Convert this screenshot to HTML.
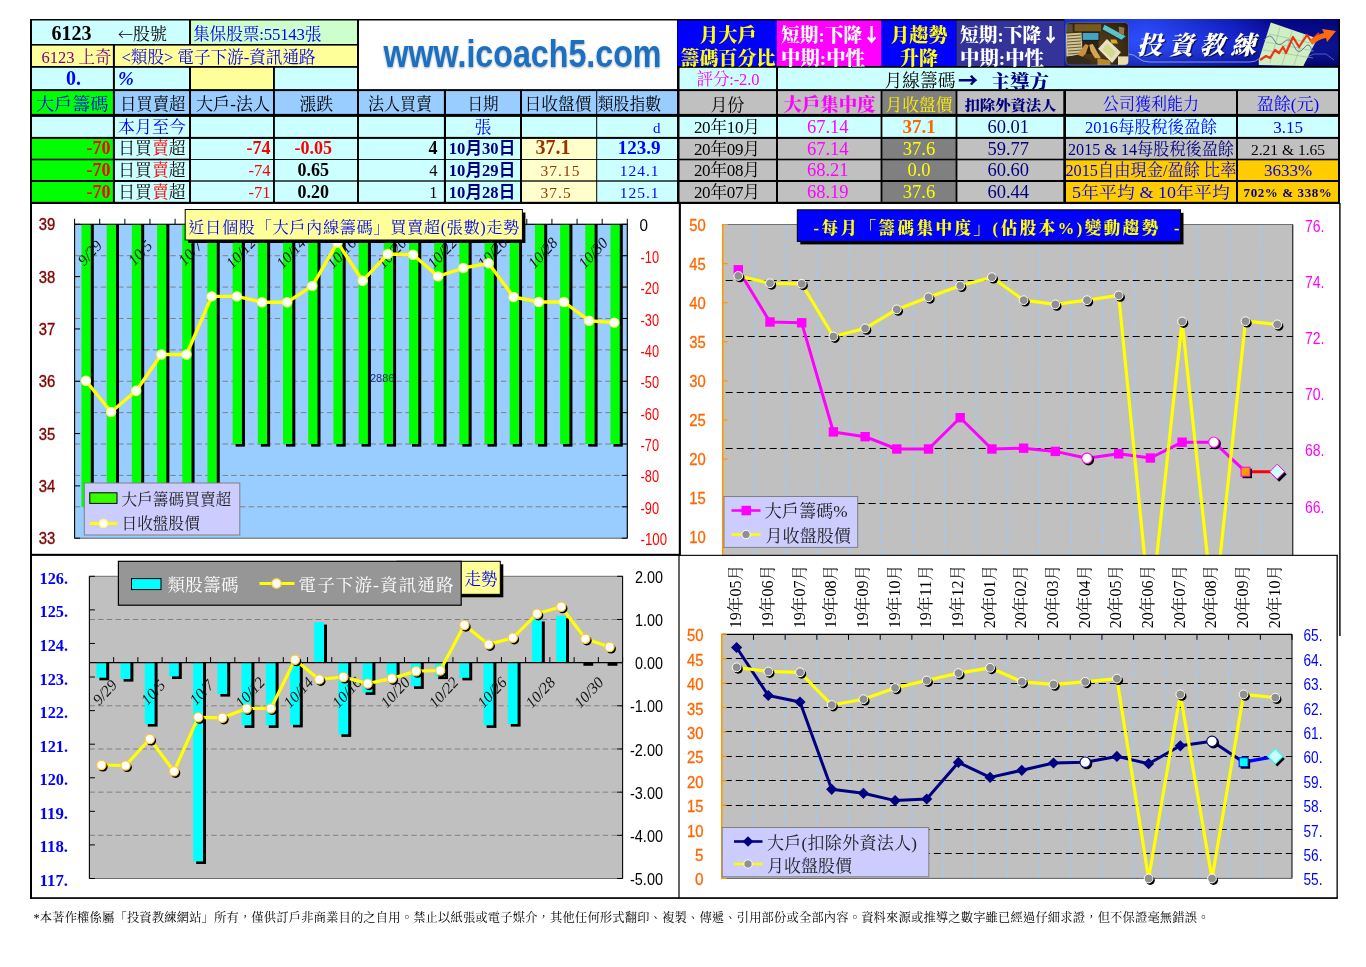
<!DOCTYPE html>
<html lang="zh-Hant"><head><meta charset="utf-8"><title>6123 上奇 籌碼分析</title>
<style>
html,body{margin:0;padding:0;background:#fff;}
body{width:1366px;height:967px;overflow:hidden;position:relative;font-family:"Liberation Serif","Noto Serif CJK TC","Noto Serif CJK SC",serif;}
svg{position:absolute;left:0;top:0;display:block}
svg text{white-space:pre}
</style></head><body>
<svg width="1366" height="967" viewBox="0 0 1366 967" font-family='"Liberation Serif","Noto Serif CJK TC","Noto Serif CJK SC",serif'>
<defs>
<linearGradient id="bng" x1="0" y1="0" x2="1" y2="0">
<stop offset="0" stop-color="#1c36e8"/><stop offset="0.3" stop-color="#2a4cff"/><stop offset="0.62" stop-color="#1020c8"/><stop offset="0.78" stop-color="#04068c"/><stop offset="1" stop-color="#020478"/>
</linearGradient>
<linearGradient id="bng2" x1="0" y1="0" x2="0" y2="1">
<stop offset="0" stop-color="#000060" stop-opacity="0.15"/><stop offset="0.45" stop-color="#4060ff" stop-opacity="0.12"/><stop offset="1" stop-color="#000050" stop-opacity="0.45"/>
</linearGradient>
<radialGradient id="phg" cx="0.45" cy="0.55" r="0.7">
<stop offset="0" stop-color="#7a5a2a" stop-opacity="0.45"/><stop offset="1" stop-color="#1a1408" stop-opacity="0.75"/>
</radialGradient>
<filter id="lgsh" x="-5%" y="-20%" width="110%" height="150%"><feGaussianBlur in="SourceAlpha" stdDeviation="1.3" result="b"/><feOffset in="b" dx="0" dy="1.2" result="o"/><feComponentTransfer in="o" result="s"><feFuncA type="linear" slope="0.35"/></feComponentTransfer><feMerge><feMergeNode in="s"/><feMergeNode in="SourceGraphic"/></feMerge></filter>
<clipPath id="r3clip"><rect x="778" y="67.8" width="560" height="21.3"/></clipPath>
<clipPath id="phclip"><rect x="1066" y="22.5" width="62.5" height="42.5" rx="4"/></clipPath>
<filter id="phblur" x="-5%" y="-5%" width="110%" height="110%"><feGaussianBlur stdDeviation="0.55"/></filter>
<clipPath id="c2clip"><rect x="681" y="204" width="658" height="351.2"/></clipPath>
</defs>
<rect x="0" y="0" width="1366" height="967" fill="#fff"/>
<rect x="30.00" y="203.00" width="2.00" height="696.00" fill="#000" />
<rect x="30.00" y="553.80" width="650.00" height="2.10" fill="#000" />
<rect x="30.00" y="897.20" width="1307.80" height="1.70" fill="#000" />
<rect x="678.80" y="203.00" width="2.10" height="353.00" fill="#000" />
<rect x="678.40" y="556.00" width="1.20" height="342.00" fill="#000" />
<rect x="1339.20" y="203.00" width="1.40" height="433.00" fill="#000" />
<rect x="1336.50" y="555.00" width="1.30" height="343.00" fill="#000" />
<rect x="74.60" y="224.30" width="552.70" height="313.90" fill="#99CCFF" stroke="#606060" stroke-width="1"/>
<line x1="74.60" y1="255.69" x2="627.30" y2="255.69" stroke="#808080" stroke-width="1" stroke-dasharray="5.5 3.2"/>
<line x1="74.60" y1="287.08" x2="627.30" y2="287.08" stroke="#808080" stroke-width="1" stroke-dasharray="5.5 3.2"/>
<line x1="74.60" y1="318.47" x2="627.30" y2="318.47" stroke="#808080" stroke-width="1" stroke-dasharray="5.5 3.2"/>
<line x1="74.60" y1="349.86" x2="627.30" y2="349.86" stroke="#808080" stroke-width="1" stroke-dasharray="5.5 3.2"/>
<line x1="74.60" y1="381.25" x2="627.30" y2="381.25" stroke="#808080" stroke-width="1" stroke-dasharray="5.5 3.2"/>
<line x1="74.60" y1="412.64" x2="627.30" y2="412.64" stroke="#808080" stroke-width="1" stroke-dasharray="5.5 3.2"/>
<line x1="74.60" y1="444.03" x2="627.30" y2="444.03" stroke="#808080" stroke-width="1" stroke-dasharray="5.5 3.2"/>
<line x1="74.60" y1="475.42" x2="627.30" y2="475.42" stroke="#808080" stroke-width="1" stroke-dasharray="5.5 3.2"/>
<line x1="74.60" y1="506.81" x2="627.30" y2="506.81" stroke="#808080" stroke-width="1" stroke-dasharray="5.5 3.2"/>
<rect x="84.50" y="224.30" width="9.30" height="285.11" fill="#000" />
<rect x="81.50" y="224.30" width="9.30" height="282.51" fill="#00FF00" />
<rect x="109.69" y="224.30" width="9.30" height="285.11" fill="#000" />
<rect x="106.69" y="224.30" width="9.30" height="282.51" fill="#00FF00" />
<rect x="134.88" y="224.30" width="9.30" height="285.11" fill="#000" />
<rect x="131.88" y="224.30" width="9.30" height="282.51" fill="#00FF00" />
<rect x="160.07" y="224.30" width="9.30" height="285.11" fill="#000" />
<rect x="157.07" y="224.30" width="9.30" height="282.51" fill="#00FF00" />
<rect x="185.26" y="224.30" width="9.30" height="285.11" fill="#000" />
<rect x="182.26" y="224.30" width="9.30" height="282.51" fill="#00FF00" />
<rect x="210.45" y="224.30" width="9.30" height="285.11" fill="#000" />
<rect x="207.45" y="224.30" width="9.30" height="282.51" fill="#00FF00" />
<rect x="235.64" y="224.30" width="9.30" height="222.33" fill="#000" />
<rect x="232.64" y="224.30" width="9.30" height="219.73" fill="#00FF00" />
<rect x="260.83" y="224.30" width="9.30" height="222.33" fill="#000" />
<rect x="257.83" y="224.30" width="9.30" height="219.73" fill="#00FF00" />
<rect x="286.02" y="224.30" width="9.30" height="222.33" fill="#000" />
<rect x="283.02" y="224.30" width="9.30" height="219.73" fill="#00FF00" />
<rect x="311.21" y="224.30" width="9.30" height="222.33" fill="#000" />
<rect x="308.21" y="224.30" width="9.30" height="219.73" fill="#00FF00" />
<rect x="336.40" y="224.30" width="9.30" height="222.33" fill="#000" />
<rect x="333.40" y="224.30" width="9.30" height="219.73" fill="#00FF00" />
<rect x="361.59" y="224.30" width="9.30" height="222.33" fill="#000" />
<rect x="358.59" y="224.30" width="9.30" height="219.73" fill="#00FF00" />
<rect x="386.78" y="224.30" width="9.30" height="222.33" fill="#000" />
<rect x="383.78" y="224.30" width="9.30" height="219.73" fill="#00FF00" />
<rect x="411.97" y="224.30" width="9.30" height="222.33" fill="#000" />
<rect x="408.97" y="224.30" width="9.30" height="219.73" fill="#00FF00" />
<rect x="437.16" y="224.30" width="9.30" height="222.33" fill="#000" />
<rect x="434.16" y="224.30" width="9.30" height="219.73" fill="#00FF00" />
<rect x="462.35" y="224.30" width="9.30" height="222.33" fill="#000" />
<rect x="459.35" y="224.30" width="9.30" height="219.73" fill="#00FF00" />
<rect x="487.54" y="224.30" width="9.30" height="222.33" fill="#000" />
<rect x="484.54" y="224.30" width="9.30" height="219.73" fill="#00FF00" />
<rect x="512.73" y="224.30" width="9.30" height="222.33" fill="#000" />
<rect x="509.73" y="224.30" width="9.30" height="219.73" fill="#00FF00" />
<rect x="537.92" y="224.30" width="9.30" height="222.33" fill="#000" />
<rect x="534.92" y="224.30" width="9.30" height="219.73" fill="#00FF00" />
<rect x="563.11" y="224.30" width="9.30" height="222.33" fill="#000" />
<rect x="560.11" y="224.30" width="9.30" height="219.73" fill="#00FF00" />
<rect x="588.30" y="224.30" width="9.30" height="222.33" fill="#000" />
<rect x="585.30" y="224.30" width="9.30" height="219.73" fill="#00FF00" />
<rect x="613.49" y="224.30" width="9.30" height="222.33" fill="#000" />
<rect x="610.49" y="224.30" width="9.30" height="219.73" fill="#00FF00" />
<line x1="74.60" y1="224.30" x2="627.30" y2="224.30" stroke="#000" stroke-width="1" />
<line x1="74.60" y1="218.80" x2="74.60" y2="224.30" stroke="#000" stroke-width="1" />
<line x1="99.72" y1="218.80" x2="99.72" y2="224.30" stroke="#000" stroke-width="1" />
<line x1="124.85" y1="218.80" x2="124.85" y2="224.30" stroke="#000" stroke-width="1" />
<line x1="149.97" y1="218.80" x2="149.97" y2="224.30" stroke="#000" stroke-width="1" />
<line x1="175.09" y1="218.80" x2="175.09" y2="224.30" stroke="#000" stroke-width="1" />
<line x1="200.21" y1="218.80" x2="200.21" y2="224.30" stroke="#000" stroke-width="1" />
<line x1="225.34" y1="218.80" x2="225.34" y2="224.30" stroke="#000" stroke-width="1" />
<line x1="250.46" y1="218.80" x2="250.46" y2="224.30" stroke="#000" stroke-width="1" />
<line x1="275.58" y1="218.80" x2="275.58" y2="224.30" stroke="#000" stroke-width="1" />
<line x1="300.70" y1="218.80" x2="300.70" y2="224.30" stroke="#000" stroke-width="1" />
<line x1="325.83" y1="218.80" x2="325.83" y2="224.30" stroke="#000" stroke-width="1" />
<line x1="350.95" y1="218.80" x2="350.95" y2="224.30" stroke="#000" stroke-width="1" />
<line x1="376.07" y1="218.80" x2="376.07" y2="224.30" stroke="#000" stroke-width="1" />
<line x1="401.20" y1="218.80" x2="401.20" y2="224.30" stroke="#000" stroke-width="1" />
<line x1="426.32" y1="218.80" x2="426.32" y2="224.30" stroke="#000" stroke-width="1" />
<line x1="451.44" y1="218.80" x2="451.44" y2="224.30" stroke="#000" stroke-width="1" />
<line x1="476.56" y1="218.80" x2="476.56" y2="224.30" stroke="#000" stroke-width="1" />
<line x1="501.69" y1="218.80" x2="501.69" y2="224.30" stroke="#000" stroke-width="1" />
<line x1="526.81" y1="218.80" x2="526.81" y2="224.30" stroke="#000" stroke-width="1" />
<line x1="551.93" y1="218.80" x2="551.93" y2="224.30" stroke="#000" stroke-width="1" />
<line x1="577.05" y1="218.80" x2="577.05" y2="224.30" stroke="#000" stroke-width="1" />
<line x1="602.18" y1="218.80" x2="602.18" y2="224.30" stroke="#000" stroke-width="1" />
<line x1="627.30" y1="218.80" x2="627.30" y2="224.30" stroke="#000" stroke-width="1" />
<line x1="74.60" y1="224.30" x2="74.60" y2="538.20" stroke="#000" stroke-width="1" />
<line x1="74.60" y1="224.30" x2="80.10" y2="224.30" stroke="#000" stroke-width="1" />
<line x1="74.60" y1="276.62" x2="80.10" y2="276.62" stroke="#000" stroke-width="1" />
<line x1="74.60" y1="328.93" x2="80.10" y2="328.93" stroke="#000" stroke-width="1" />
<line x1="74.60" y1="381.25" x2="80.10" y2="381.25" stroke="#000" stroke-width="1" />
<line x1="74.60" y1="433.57" x2="80.10" y2="433.57" stroke="#000" stroke-width="1" />
<line x1="74.60" y1="485.88" x2="80.10" y2="485.88" stroke="#000" stroke-width="1" />
<line x1="74.60" y1="538.20" x2="80.10" y2="538.20" stroke="#000" stroke-width="1" />
<line x1="627.30" y1="224.30" x2="627.30" y2="538.20" stroke="#000" stroke-width="1" />
<line x1="621.80" y1="224.30" x2="627.30" y2="224.30" stroke="#000" stroke-width="1" />
<line x1="621.80" y1="255.69" x2="627.30" y2="255.69" stroke="#000" stroke-width="1" />
<line x1="621.80" y1="287.08" x2="627.30" y2="287.08" stroke="#000" stroke-width="1" />
<line x1="621.80" y1="318.47" x2="627.30" y2="318.47" stroke="#000" stroke-width="1" />
<line x1="621.80" y1="349.86" x2="627.30" y2="349.86" stroke="#000" stroke-width="1" />
<line x1="621.80" y1="381.25" x2="627.30" y2="381.25" stroke="#000" stroke-width="1" />
<line x1="621.80" y1="412.64" x2="627.30" y2="412.64" stroke="#000" stroke-width="1" />
<line x1="621.80" y1="444.03" x2="627.30" y2="444.03" stroke="#000" stroke-width="1" />
<line x1="621.80" y1="475.42" x2="627.30" y2="475.42" stroke="#000" stroke-width="1" />
<line x1="621.80" y1="506.81" x2="627.30" y2="506.81" stroke="#000" stroke-width="1" />
<line x1="621.80" y1="538.20" x2="627.30" y2="538.20" stroke="#000" stroke-width="1" />
<text x="89.9" y="258.0" font-size="15.5" fill="#111" text-anchor="middle" font-family='"Liberation Serif",serif' transform="rotate(-47 89.9 253.0)" font-style="italic">9/29</text>
<text x="140.2" y="258.0" font-size="15.5" fill="#111" text-anchor="middle" font-family='"Liberation Serif",serif' transform="rotate(-47 140.2 253.0)" font-style="italic">10/5</text>
<text x="190.5" y="258.0" font-size="15.5" fill="#111" text-anchor="middle" font-family='"Liberation Serif",serif' transform="rotate(-47 190.5 253.0)" font-style="italic">10/7</text>
<text x="240.9" y="258.0" font-size="15.5" fill="#111" text-anchor="middle" font-family='"Liberation Serif",serif' transform="rotate(-47 240.9 253.0)" font-style="italic">10/12</text>
<text x="291.2" y="258.0" font-size="15.5" fill="#111" text-anchor="middle" font-family='"Liberation Serif",serif' transform="rotate(-47 291.2 253.0)" font-style="italic">10/14</text>
<text x="341.5" y="258.0" font-size="15.5" fill="#111" text-anchor="middle" font-family='"Liberation Serif",serif' transform="rotate(-47 341.5 253.0)" font-style="italic">10/16</text>
<text x="391.8" y="258.0" font-size="15.5" fill="#111" text-anchor="middle" font-family='"Liberation Serif",serif' transform="rotate(-47 391.8 253.0)" font-style="italic">10/20</text>
<text x="442.1" y="258.0" font-size="15.5" fill="#111" text-anchor="middle" font-family='"Liberation Serif",serif' transform="rotate(-47 442.1 253.0)" font-style="italic">10/22</text>
<text x="492.5" y="258.0" font-size="15.5" fill="#111" text-anchor="middle" font-family='"Liberation Serif",serif' transform="rotate(-47 492.5 253.0)" font-style="italic">10/26</text>
<text x="542.8" y="258.0" font-size="15.5" fill="#111" text-anchor="middle" font-family='"Liberation Serif",serif' transform="rotate(-47 542.8 253.0)" font-style="italic">10/28</text>
<text x="593.1" y="258.0" font-size="15.5" fill="#111" text-anchor="middle" font-family='"Liberation Serif",serif' transform="rotate(-47 593.1 253.0)" font-style="italic">10/30</text>
<text x="370.0" y="382.0" font-size="11" fill="#1f2f6f" font-family='"Liberation Sans",sans-serif' >2886</text>
<polyline points="85.9,380.8 111.1,412.0 136.2,390.8 161.4,354.5 186.5,354.5 211.7,296.4 236.9,296.4 262.0,302.2 287.2,302.2 312.3,285.9 337.5,242.6 362.7,280.7 387.8,254.0 413.0,254.8 438.1,276.4 463.3,268.0 488.5,263.3 513.6,297.0 538.8,302.0 563.9,302.0 589.1,320.7 614.3,322.6" fill="none" stroke="#FFFF00" stroke-width="3.4" stroke-linejoin="round" />
<circle cx="85.9" cy="380.8" r="4.6" fill="#fff" stroke="#FFFF66" stroke-width="1.2"/>
<circle cx="111.1" cy="412.0" r="4.6" fill="#fff" stroke="#FFFF66" stroke-width="1.2"/>
<circle cx="136.2" cy="390.8" r="4.6" fill="#fff" stroke="#FFFF66" stroke-width="1.2"/>
<circle cx="161.4" cy="354.5" r="4.6" fill="#fff" stroke="#FFFF66" stroke-width="1.2"/>
<circle cx="186.5" cy="354.5" r="4.6" fill="#fff" stroke="#FFFF66" stroke-width="1.2"/>
<circle cx="211.7" cy="296.4" r="4.6" fill="#fff" stroke="#FFFF66" stroke-width="1.2"/>
<circle cx="236.9" cy="296.4" r="4.6" fill="#fff" stroke="#FFFF66" stroke-width="1.2"/>
<circle cx="262.0" cy="302.2" r="4.6" fill="#fff" stroke="#FFFF66" stroke-width="1.2"/>
<circle cx="287.2" cy="302.2" r="4.6" fill="#fff" stroke="#FFFF66" stroke-width="1.2"/>
<circle cx="312.3" cy="285.9" r="4.6" fill="#fff" stroke="#FFFF66" stroke-width="1.2"/>
<circle cx="337.5" cy="242.6" r="4.6" fill="#fff" stroke="#FFFF66" stroke-width="1.2"/>
<circle cx="362.7" cy="280.7" r="4.6" fill="#fff" stroke="#FFFF66" stroke-width="1.2"/>
<circle cx="387.8" cy="254.0" r="4.6" fill="#fff" stroke="#FFFF66" stroke-width="1.2"/>
<circle cx="413.0" cy="254.8" r="4.6" fill="#fff" stroke="#FFFF66" stroke-width="1.2"/>
<circle cx="438.1" cy="276.4" r="4.6" fill="#fff" stroke="#FFFF66" stroke-width="1.2"/>
<circle cx="463.3" cy="268.0" r="4.6" fill="#fff" stroke="#FFFF66" stroke-width="1.2"/>
<circle cx="488.5" cy="263.3" r="4.6" fill="#fff" stroke="#FFFF66" stroke-width="1.2"/>
<circle cx="513.6" cy="297.0" r="4.6" fill="#fff" stroke="#FFFF66" stroke-width="1.2"/>
<circle cx="538.8" cy="302.0" r="4.6" fill="#fff" stroke="#FFFF66" stroke-width="1.2"/>
<circle cx="563.9" cy="302.0" r="4.6" fill="#fff" stroke="#FFFF66" stroke-width="1.2"/>
<circle cx="589.1" cy="320.7" r="4.6" fill="#fff" stroke="#FFFF66" stroke-width="1.2"/>
<circle cx="614.3" cy="322.6" r="4.6" fill="#fff" stroke="#FFFF66" stroke-width="1.2"/>
<rect x="84.30" y="483.00" width="155.50" height="52.00" fill="#CCCCFF" stroke="#808080" stroke-width="1"/>
<rect x="89.80" y="492.80" width="27.20" height="10.60" fill="#33FF00" stroke="#000" stroke-width="1"/>
<text x="121.5" y="505.3" font-size="15.7" fill="#222" font-family='"Liberation Serif","Noto Serif CJK TC","Noto Serif CJK SC",serif' >大戶籌碼買賣超</text>
<line x1="89.60" y1="523.50" x2="117.50" y2="523.50" stroke="#FFFF00" stroke-width="3" />
<circle cx="103.5" cy="523.5" r="4.2" fill="#fff" stroke="#FFFF66" stroke-width="1.2"/>
<text x="121.5" y="529.3" font-size="15.7" fill="#222" font-family='"Liberation Serif","Noto Serif CJK TC","Noto Serif CJK SC",serif' >日收盤股價</text>
<rect x="188.20" y="212.50" width="337.20" height="30.50" fill="#000" />
<rect x="185.20" y="209.50" width="337.20" height="30.50" fill="#FFFF99" stroke="#000" stroke-width="1"/>
<text x="188.3" y="232.5" font-size="16.3" fill="#0000FF" font-family='"Liberation Serif","Noto Serif CJK TC","Noto Serif CJK SC",serif' textLength="331" lengthAdjust="spacing">近日個股「大戶內線籌碼」買賣超(張數)走勢</text>
<text x="47.0" y="230.3" font-size="16" fill="#800000" text-anchor="middle" font-family='"Liberation Sans",sans-serif' textLength="16.5" lengthAdjust="spacingAndGlyphs" stroke="#800000" stroke-width="0.35">39</text>
<text x="47.0" y="282.6" font-size="16" fill="#800000" text-anchor="middle" font-family='"Liberation Sans",sans-serif' textLength="16.5" lengthAdjust="spacingAndGlyphs" stroke="#800000" stroke-width="0.35">38</text>
<text x="47.0" y="334.9" font-size="16" fill="#800000" text-anchor="middle" font-family='"Liberation Sans",sans-serif' textLength="16.5" lengthAdjust="spacingAndGlyphs" stroke="#800000" stroke-width="0.35">37</text>
<text x="47.0" y="387.2" font-size="16" fill="#800000" text-anchor="middle" font-family='"Liberation Sans",sans-serif' textLength="16.5" lengthAdjust="spacingAndGlyphs" stroke="#800000" stroke-width="0.35">36</text>
<text x="47.0" y="439.6" font-size="16" fill="#800000" text-anchor="middle" font-family='"Liberation Sans",sans-serif' textLength="16.5" lengthAdjust="spacingAndGlyphs" stroke="#800000" stroke-width="0.35">35</text>
<text x="47.0" y="491.9" font-size="16" fill="#800000" text-anchor="middle" font-family='"Liberation Sans",sans-serif' textLength="16.5" lengthAdjust="spacingAndGlyphs" stroke="#800000" stroke-width="0.35">34</text>
<text x="47.0" y="544.2" font-size="16" fill="#800000" text-anchor="middle" font-family='"Liberation Sans",sans-serif' textLength="16.5" lengthAdjust="spacingAndGlyphs" stroke="#800000" stroke-width="0.35">33</text>
<text x="639.5" y="231.3" font-size="16.5" fill="#000" font-family='"Liberation Sans",sans-serif' textLength="8.5" lengthAdjust="spacingAndGlyphs">0</text>
<text x="640.5" y="262.7" font-size="16.5" fill="#FF0000" font-family='"Liberation Sans",sans-serif' textLength="18.5" lengthAdjust="spacingAndGlyphs">-10</text>
<text x="640.5" y="294.1" font-size="16.5" fill="#FF0000" font-family='"Liberation Sans",sans-serif' textLength="18.5" lengthAdjust="spacingAndGlyphs">-20</text>
<text x="640.5" y="325.5" font-size="16.5" fill="#FF0000" font-family='"Liberation Sans",sans-serif' textLength="18.5" lengthAdjust="spacingAndGlyphs">-30</text>
<text x="640.5" y="356.9" font-size="16.5" fill="#FF0000" font-family='"Liberation Sans",sans-serif' textLength="18.5" lengthAdjust="spacingAndGlyphs">-40</text>
<text x="640.5" y="388.2" font-size="16.5" fill="#FF0000" font-family='"Liberation Sans",sans-serif' textLength="18.5" lengthAdjust="spacingAndGlyphs">-50</text>
<text x="640.5" y="419.6" font-size="16.5" fill="#FF0000" font-family='"Liberation Sans",sans-serif' textLength="18.5" lengthAdjust="spacingAndGlyphs">-60</text>
<text x="640.5" y="451.0" font-size="16.5" fill="#FF0000" font-family='"Liberation Sans",sans-serif' textLength="18.5" lengthAdjust="spacingAndGlyphs">-70</text>
<text x="640.5" y="482.4" font-size="16.5" fill="#FF0000" font-family='"Liberation Sans",sans-serif' textLength="18.5" lengthAdjust="spacingAndGlyphs">-80</text>
<text x="640.5" y="513.8" font-size="16.5" fill="#FF0000" font-family='"Liberation Sans",sans-serif' textLength="18.5" lengthAdjust="spacingAndGlyphs">-90</text>
<text x="640.5" y="545.2" font-size="16.5" fill="#FF0000" font-family='"Liberation Sans",sans-serif' textLength="26.5" lengthAdjust="spacingAndGlyphs">-100</text>
<g clip-path="url(#c2clip)">
<rect x="722.70" y="224.50" width="570.10" height="335.50" fill="#C0C0C0" />
<line x1="754.37" y1="224.50" x2="754.37" y2="560.00" stroke="#99CCFF" stroke-width="1.2" stroke-dasharray="6 3.5"/>
<line x1="786.04" y1="224.50" x2="786.04" y2="560.00" stroke="#99CCFF" stroke-width="1.2" stroke-dasharray="6 3.5"/>
<line x1="817.72" y1="224.50" x2="817.72" y2="560.00" stroke="#99CCFF" stroke-width="1.2" stroke-dasharray="6 3.5"/>
<line x1="849.39" y1="224.50" x2="849.39" y2="560.00" stroke="#99CCFF" stroke-width="1.2" stroke-dasharray="6 3.5"/>
<line x1="881.06" y1="224.50" x2="881.06" y2="560.00" stroke="#99CCFF" stroke-width="1.2" stroke-dasharray="6 3.5"/>
<line x1="912.73" y1="224.50" x2="912.73" y2="560.00" stroke="#99CCFF" stroke-width="1.2" stroke-dasharray="6 3.5"/>
<line x1="944.41" y1="224.50" x2="944.41" y2="560.00" stroke="#99CCFF" stroke-width="1.2" stroke-dasharray="6 3.5"/>
<line x1="976.08" y1="224.50" x2="976.08" y2="560.00" stroke="#99CCFF" stroke-width="1.2" stroke-dasharray="6 3.5"/>
<line x1="1007.75" y1="224.50" x2="1007.75" y2="560.00" stroke="#99CCFF" stroke-width="1.2" stroke-dasharray="6 3.5"/>
<line x1="1039.42" y1="224.50" x2="1039.42" y2="560.00" stroke="#99CCFF" stroke-width="1.2" stroke-dasharray="6 3.5"/>
<line x1="1071.09" y1="224.50" x2="1071.09" y2="560.00" stroke="#99CCFF" stroke-width="1.2" stroke-dasharray="6 3.5"/>
<line x1="1102.77" y1="224.50" x2="1102.77" y2="560.00" stroke="#99CCFF" stroke-width="1.2" stroke-dasharray="6 3.5"/>
<line x1="1134.44" y1="224.50" x2="1134.44" y2="560.00" stroke="#99CCFF" stroke-width="1.2" stroke-dasharray="6 3.5"/>
<line x1="1166.11" y1="224.50" x2="1166.11" y2="560.00" stroke="#99CCFF" stroke-width="1.2" stroke-dasharray="6 3.5"/>
<line x1="1197.78" y1="224.50" x2="1197.78" y2="560.00" stroke="#99CCFF" stroke-width="1.2" stroke-dasharray="6 3.5"/>
<line x1="1229.46" y1="224.50" x2="1229.46" y2="560.00" stroke="#99CCFF" stroke-width="1.2" stroke-dasharray="6 3.5"/>
<line x1="1261.13" y1="224.50" x2="1261.13" y2="560.00" stroke="#99CCFF" stroke-width="1.2" stroke-dasharray="6 3.5"/>
<line x1="722.70" y1="280.50" x2="1292.80" y2="280.50" stroke="#000" stroke-width="1.15" stroke-dasharray="7 4" stroke-dashoffset="-3"/>
<line x1="722.70" y1="336.50" x2="1292.80" y2="336.50" stroke="#000" stroke-width="1.15" stroke-dasharray="7 4" stroke-dashoffset="-3"/>
<line x1="722.70" y1="392.50" x2="1292.80" y2="392.50" stroke="#000" stroke-width="1.15" stroke-dasharray="7 4" stroke-dashoffset="-3"/>
<line x1="722.70" y1="448.50" x2="1292.80" y2="448.50" stroke="#000" stroke-width="1.15" stroke-dasharray="7 4" stroke-dashoffset="-3"/>
<line x1="722.70" y1="503.50" x2="1292.80" y2="503.50" stroke="#000" stroke-width="1.15" stroke-dasharray="7 4" stroke-dashoffset="-3"/>
<line x1="722.70" y1="559.50" x2="1292.80" y2="559.50" stroke="#000" stroke-width="1.15" stroke-dasharray="7 4" stroke-dashoffset="-3"/>
<line x1="722.70" y1="224.50" x2="1292.80" y2="224.50" stroke="#707070" stroke-width="1" />
<line x1="1292.80" y1="224.50" x2="1292.80" y2="560.00" stroke="#000" stroke-width="1" />
<line x1="722.70" y1="224.00" x2="722.70" y2="560.00" stroke="#FF9900" stroke-width="1.6" />
<line x1="722.70" y1="224.50" x2="727.70" y2="224.50" stroke="#FF9900" stroke-width="1.2" />
<line x1="1292.80" y1="224.50" x2="1292.80" y2="224.50" stroke="#000" stroke-width="1" />
<line x1="722.70" y1="263.60" x2="727.70" y2="263.60" stroke="#FF9900" stroke-width="1.2" />
<line x1="1292.80" y1="263.60" x2="1292.80" y2="263.60" stroke="#000" stroke-width="1" />
<line x1="722.70" y1="302.70" x2="727.70" y2="302.70" stroke="#FF9900" stroke-width="1.2" />
<line x1="1292.80" y1="302.70" x2="1292.80" y2="302.70" stroke="#000" stroke-width="1" />
<line x1="722.70" y1="341.80" x2="727.70" y2="341.80" stroke="#FF9900" stroke-width="1.2" />
<line x1="1292.80" y1="341.80" x2="1292.80" y2="341.80" stroke="#000" stroke-width="1" />
<line x1="722.70" y1="380.90" x2="727.70" y2="380.90" stroke="#FF9900" stroke-width="1.2" />
<line x1="1292.80" y1="380.90" x2="1292.80" y2="380.90" stroke="#000" stroke-width="1" />
<line x1="722.70" y1="420.00" x2="727.70" y2="420.00" stroke="#FF9900" stroke-width="1.2" />
<line x1="1292.80" y1="420.00" x2="1292.80" y2="420.00" stroke="#000" stroke-width="1" />
<line x1="722.70" y1="459.10" x2="727.70" y2="459.10" stroke="#FF9900" stroke-width="1.2" />
<line x1="1292.80" y1="459.10" x2="1292.80" y2="459.10" stroke="#000" stroke-width="1" />
<line x1="722.70" y1="498.20" x2="727.70" y2="498.20" stroke="#FF9900" stroke-width="1.2" />
<line x1="1292.80" y1="498.20" x2="1292.80" y2="498.20" stroke="#000" stroke-width="1" />
<line x1="722.70" y1="537.30" x2="727.70" y2="537.30" stroke="#FF9900" stroke-width="1.2" />
<line x1="1292.80" y1="537.30" x2="1292.80" y2="537.30" stroke="#000" stroke-width="1" />
<polyline points="738.3,269.8 770.0,322.0 801.7,322.8 833.4,431.9 865.1,436.7 896.8,449.0 928.5,449.0 960.2,417.7 991.9,449.0 1023.6,448.2 1055.3,451.4 1087.0,458.3 1118.7,453.8 1150.4,458.0 1182.1,442.2 1213.8,442.2 1245.5,471.7" fill="none" stroke="#FF00FF" stroke-width="3" stroke-linejoin="round" />
<line x1="1245.50" y1="471.70" x2="1277.20" y2="471.70" stroke="#FF0000" stroke-width="3" />
<rect x="733.60" y="265.10" width="9.40" height="9.40" fill="#FF00FF" />
<rect x="765.30" y="317.30" width="9.40" height="9.40" fill="#FF00FF" />
<rect x="797.00" y="318.10" width="9.40" height="9.40" fill="#FF00FF" />
<rect x="828.70" y="427.20" width="9.40" height="9.40" fill="#FF00FF" />
<rect x="860.40" y="432.00" width="9.40" height="9.40" fill="#FF00FF" />
<rect x="892.10" y="444.30" width="9.40" height="9.40" fill="#FF00FF" />
<rect x="923.80" y="444.30" width="9.40" height="9.40" fill="#FF00FF" />
<rect x="955.50" y="413.00" width="9.40" height="9.40" fill="#FF00FF" />
<rect x="987.20" y="444.30" width="9.40" height="9.40" fill="#FF00FF" />
<rect x="1018.90" y="443.50" width="9.40" height="9.40" fill="#FF00FF" />
<rect x="1050.60" y="446.70" width="9.40" height="9.40" fill="#FF00FF" />
<circle cx="1088.5" cy="459.8" r="5.6" fill="#000"/>
<circle cx="1087.0" cy="458.3" r="5.2" fill="#fff" stroke="#FF00FF" stroke-width="1.1"/>
<rect x="1114.00" y="449.10" width="9.40" height="9.40" fill="#FF00FF" />
<rect x="1145.70" y="453.30" width="9.40" height="9.40" fill="#FF00FF" />
<rect x="1177.40" y="437.50" width="9.40" height="9.40" fill="#FF00FF" />
<circle cx="1215.3" cy="443.7" r="5.6" fill="#000"/>
<circle cx="1213.8" cy="442.2" r="5.2" fill="#fff" stroke="#FF00FF" stroke-width="1.1"/>
<rect x="1242.50" y="468.70" width="9.50" height="9.50" fill="#000" />
<rect x="1241.00" y="467.20" width="9.00" height="9.00" fill="#FF9900" stroke="#FF00FF" stroke-width="1"/>
<path d="M1279.2,466.7 l7.5,7.5 l-7.5,7.5 l-7.5,-7.5z" fill="#000"/>
<path d="M1277.2,464.2 l7.5,7.5 l-7.5,7.5 l-7.5,-7.5z" fill="#CCFFFF" stroke="#FF00FF" stroke-width="1"/>
<polyline points="738.3,275.9 770.0,283.3 801.7,283.8 833.4,336.5 865.1,328.4 896.8,309.4 928.5,297.3 960.2,285.7 991.9,277.2 1023.6,300.2 1055.3,304.4 1087.0,300.2 1118.7,295.4 1150.4,615.5 1182.1,321.5 1213.8,615.5 1245.5,321.2 1277.2,324.4" fill="none" stroke="#FFFF00" stroke-width="3.2" stroke-linejoin="round" stroke-linejoin="miter"/>
<circle cx="739.9" cy="277.7" r="4.6" fill="#000"/>
<circle cx="738.3" cy="275.9" r="4.4" fill="#909090" stroke="#fff" stroke-width="1"/>
<circle cx="771.6" cy="285.1" r="4.6" fill="#000"/>
<circle cx="770.0" cy="283.3" r="4.4" fill="#909090" stroke="#fff" stroke-width="1"/>
<circle cx="803.3" cy="285.6" r="4.6" fill="#000"/>
<circle cx="801.7" cy="283.8" r="4.4" fill="#909090" stroke="#fff" stroke-width="1"/>
<circle cx="835.0" cy="338.3" r="4.6" fill="#000"/>
<circle cx="833.4" cy="336.5" r="4.4" fill="#909090" stroke="#fff" stroke-width="1"/>
<circle cx="866.7" cy="330.2" r="4.6" fill="#000"/>
<circle cx="865.1" cy="328.4" r="4.4" fill="#909090" stroke="#fff" stroke-width="1"/>
<circle cx="898.4" cy="311.2" r="4.6" fill="#000"/>
<circle cx="896.8" cy="309.4" r="4.4" fill="#909090" stroke="#fff" stroke-width="1"/>
<circle cx="930.1" cy="299.1" r="4.6" fill="#000"/>
<circle cx="928.5" cy="297.3" r="4.4" fill="#909090" stroke="#fff" stroke-width="1"/>
<circle cx="961.8" cy="287.5" r="4.6" fill="#000"/>
<circle cx="960.2" cy="285.7" r="4.4" fill="#909090" stroke="#fff" stroke-width="1"/>
<circle cx="993.5" cy="279.0" r="4.6" fill="#000"/>
<circle cx="991.9" cy="277.2" r="4.4" fill="#909090" stroke="#fff" stroke-width="1"/>
<circle cx="1025.2" cy="302.0" r="4.6" fill="#000"/>
<circle cx="1023.6" cy="300.2" r="4.4" fill="#909090" stroke="#fff" stroke-width="1"/>
<circle cx="1056.9" cy="306.2" r="4.6" fill="#000"/>
<circle cx="1055.3" cy="304.4" r="4.4" fill="#909090" stroke="#fff" stroke-width="1"/>
<circle cx="1088.6" cy="302.0" r="4.6" fill="#000"/>
<circle cx="1087.0" cy="300.2" r="4.4" fill="#909090" stroke="#fff" stroke-width="1"/>
<circle cx="1120.3" cy="297.2" r="4.6" fill="#000"/>
<circle cx="1118.7" cy="295.4" r="4.4" fill="#909090" stroke="#fff" stroke-width="1"/>
<circle cx="1152.0" cy="617.3" r="4.6" fill="#000"/>
<circle cx="1150.4" cy="615.5" r="4.4" fill="#909090" stroke="#fff" stroke-width="1"/>
<circle cx="1183.7" cy="323.3" r="4.6" fill="#000"/>
<circle cx="1182.1" cy="321.5" r="4.4" fill="#909090" stroke="#fff" stroke-width="1"/>
<circle cx="1215.4" cy="617.3" r="4.6" fill="#000"/>
<circle cx="1213.8" cy="615.5" r="4.4" fill="#909090" stroke="#fff" stroke-width="1"/>
<circle cx="1247.1" cy="323.0" r="4.6" fill="#000"/>
<circle cx="1245.5" cy="321.2" r="4.4" fill="#909090" stroke="#fff" stroke-width="1"/>
<circle cx="1278.8" cy="326.2" r="4.6" fill="#000"/>
<circle cx="1277.2" cy="324.4" r="4.4" fill="#909090" stroke="#fff" stroke-width="1"/>
</g>
<rect x="724.00" y="496.50" width="133.70" height="50.90" fill="#CCCCFF" stroke="#808080" stroke-width="1"/>
<line x1="731.50" y1="510.50" x2="760.50" y2="510.50" stroke="#FF00FF" stroke-width="2.6" />
<rect x="741.50" y="505.80" width="9.50" height="9.50" fill="#FF00FF" />
<text x="764.5" y="517.0" font-size="17.2" fill="#222" font-family='"Liberation Serif","Noto Serif CJK TC","Noto Serif CJK SC",serif' >大戶籌碼%</text>
<line x1="731.50" y1="534.50" x2="760.50" y2="534.50" stroke="#FFFF00" stroke-width="2.6" />
<circle cx="746" cy="534.5" r="4.2" fill="#909090" stroke="#fff" stroke-width="1"/>
<text x="765.5" y="541.5" font-size="17.1" fill="#222" font-family='"Liberation Serif","Noto Serif CJK TC","Noto Serif CJK SC",serif' >月收盤股價</text>
<rect x="800.30" y="212.80" width="383.20" height="31.60" fill="#000" />
<rect x="797.30" y="209.80" width="383.20" height="31.60" fill="#0000FF" stroke="#000" stroke-width="1"/>
<text x="813.5" y="234.3" font-size="16.5" fill="#FFFF00" font-weight="900" font-family='"Liberation Serif","Noto Serif CJK TC","Noto Serif CJK SC",serif' textLength="366" lengthAdjust="spacing">-每月「籌碼集中度」(佔股本%)變動趨勢  -</text>
<text x="697.5" y="230.5" font-size="16.5" fill="#FF6600" text-anchor="middle" font-family='"Liberation Sans",sans-serif' textLength="16.5" lengthAdjust="spacingAndGlyphs" stroke="#FF6600" stroke-width="0.3">50</text>
<text x="697.5" y="269.6" font-size="16.5" fill="#FF6600" text-anchor="middle" font-family='"Liberation Sans",sans-serif' textLength="16.5" lengthAdjust="spacingAndGlyphs" stroke="#FF6600" stroke-width="0.3">45</text>
<text x="697.5" y="308.7" font-size="16.5" fill="#FF6600" text-anchor="middle" font-family='"Liberation Sans",sans-serif' textLength="16.5" lengthAdjust="spacingAndGlyphs" stroke="#FF6600" stroke-width="0.3">40</text>
<text x="697.5" y="347.8" font-size="16.5" fill="#FF6600" text-anchor="middle" font-family='"Liberation Sans",sans-serif' textLength="16.5" lengthAdjust="spacingAndGlyphs" stroke="#FF6600" stroke-width="0.3">35</text>
<text x="697.5" y="386.9" font-size="16.5" fill="#FF6600" text-anchor="middle" font-family='"Liberation Sans",sans-serif' textLength="16.5" lengthAdjust="spacingAndGlyphs" stroke="#FF6600" stroke-width="0.3">30</text>
<text x="697.5" y="426.0" font-size="16.5" fill="#FF6600" text-anchor="middle" font-family='"Liberation Sans",sans-serif' textLength="16.5" lengthAdjust="spacingAndGlyphs" stroke="#FF6600" stroke-width="0.3">25</text>
<text x="697.5" y="465.1" font-size="16.5" fill="#FF6600" text-anchor="middle" font-family='"Liberation Sans",sans-serif' textLength="16.5" lengthAdjust="spacingAndGlyphs" stroke="#FF6600" stroke-width="0.3">20</text>
<text x="697.5" y="504.2" font-size="16.5" fill="#FF6600" text-anchor="middle" font-family='"Liberation Sans",sans-serif' textLength="16.5" lengthAdjust="spacingAndGlyphs" stroke="#FF6600" stroke-width="0.3">15</text>
<text x="697.5" y="543.3" font-size="16.5" fill="#FF6600" text-anchor="middle" font-family='"Liberation Sans",sans-serif' textLength="16.5" lengthAdjust="spacingAndGlyphs" stroke="#FF6600" stroke-width="0.3">10</text>
<text x="1305.0" y="232.0" font-size="16.5" fill="#FF00FF" font-family='"Liberation Sans",sans-serif' textLength="19.5" lengthAdjust="spacingAndGlyphs">76.</text>
<text x="1305.0" y="288.1" font-size="16.5" fill="#FF00FF" font-family='"Liberation Sans",sans-serif' textLength="19.5" lengthAdjust="spacingAndGlyphs">74.</text>
<text x="1305.0" y="344.2" font-size="16.5" fill="#FF00FF" font-family='"Liberation Sans",sans-serif' textLength="19.5" lengthAdjust="spacingAndGlyphs">72.</text>
<text x="1305.0" y="400.3" font-size="16.5" fill="#FF00FF" font-family='"Liberation Sans",sans-serif' textLength="19.5" lengthAdjust="spacingAndGlyphs">70.</text>
<text x="1305.0" y="456.4" font-size="16.5" fill="#FF00FF" font-family='"Liberation Sans",sans-serif' textLength="19.5" lengthAdjust="spacingAndGlyphs">68.</text>
<text x="1305.0" y="512.5" font-size="16.5" fill="#FF00FF" font-family='"Liberation Sans",sans-serif' textLength="19.5" lengthAdjust="spacingAndGlyphs">66.</text>
<g clip-path="url(#c2clip)">
<text x="1305.0" y="568.6" font-size="16.5" fill="#FF00FF" font-family='"Liberation Sans",sans-serif' textLength="19.5" lengthAdjust="spacingAndGlyphs">64.</text>
</g>
<rect x="679.00" y="554.80" width="658.80" height="1.10" fill="#000" />
<rect x="89.40" y="576.30" width="533.20" height="302.20" fill="#C0C0C0" stroke="#707070" stroke-width="1"/>
<line x1="89.40" y1="619.47" x2="622.60" y2="619.47" stroke="#808080" stroke-width="1" stroke-dasharray="5.5 3.2"/>
<line x1="89.40" y1="705.81" x2="622.60" y2="705.81" stroke="#808080" stroke-width="1" stroke-dasharray="5.5 3.2"/>
<line x1="89.40" y1="748.98" x2="622.60" y2="748.98" stroke="#808080" stroke-width="1" stroke-dasharray="5.5 3.2"/>
<line x1="89.40" y1="792.15" x2="622.60" y2="792.15" stroke="#808080" stroke-width="1" stroke-dasharray="5.5 3.2"/>
<line x1="89.40" y1="835.32" x2="622.60" y2="835.32" stroke="#808080" stroke-width="1" stroke-dasharray="5.5 3.2"/>
<rect x="99.40" y="662.60" width="9.80" height="17.70" fill="#000" />
<rect x="96.40" y="662.60" width="9.80" height="15.10" fill="#00FFFF" />
<rect x="123.60" y="662.60" width="9.80" height="19.00" fill="#000" />
<rect x="120.60" y="662.60" width="9.80" height="16.40" fill="#00FFFF" />
<rect x="147.80" y="662.60" width="9.80" height="64.00" fill="#000" />
<rect x="144.80" y="662.60" width="9.80" height="61.40" fill="#00FFFF" />
<rect x="172.00" y="662.60" width="9.80" height="16.40" fill="#000" />
<rect x="169.00" y="662.60" width="9.80" height="13.80" fill="#00FFFF" />
<rect x="196.20" y="662.60" width="9.80" height="201.40" fill="#000" />
<rect x="193.20" y="662.60" width="9.80" height="198.80" fill="#00FFFF" />
<rect x="220.40" y="662.60" width="9.80" height="34.00" fill="#000" />
<rect x="217.40" y="662.60" width="9.80" height="31.40" fill="#00FFFF" />
<rect x="244.60" y="662.60" width="9.80" height="65.30" fill="#000" />
<rect x="241.60" y="662.60" width="9.80" height="62.70" fill="#00FFFF" />
<rect x="268.80" y="662.60" width="9.80" height="65.30" fill="#000" />
<rect x="265.80" y="662.60" width="9.80" height="62.70" fill="#00FFFF" />
<rect x="293.00" y="662.60" width="9.80" height="64.80" fill="#000" />
<rect x="290.00" y="662.60" width="9.80" height="62.20" fill="#00FFFF" />
<rect x="317.20" y="624.60" width="9.80" height="38.00" fill="#000" />
<rect x="314.20" y="622.10" width="9.80" height="40.50" fill="#00FFFF" />
<rect x="341.40" y="662.60" width="9.80" height="74.30" fill="#000" />
<rect x="338.40" y="662.60" width="9.80" height="71.70" fill="#00FFFF" />
<rect x="365.60" y="662.60" width="9.80" height="32.30" fill="#000" />
<rect x="362.60" y="662.60" width="9.80" height="29.70" fill="#00FFFF" />
<rect x="389.80" y="662.60" width="9.80" height="15.20" fill="#000" />
<rect x="386.80" y="662.60" width="9.80" height="12.60" fill="#00FFFF" />
<rect x="414.00" y="662.60" width="9.80" height="26.30" fill="#000" />
<rect x="411.00" y="662.60" width="9.80" height="23.70" fill="#00FFFF" />
<rect x="438.20" y="662.60" width="9.80" height="16.50" fill="#000" />
<rect x="435.20" y="662.60" width="9.80" height="13.90" fill="#00FFFF" />
<rect x="462.40" y="662.60" width="9.80" height="17.80" fill="#000" />
<rect x="459.40" y="662.60" width="9.80" height="15.20" fill="#00FFFF" />
<rect x="486.60" y="662.60" width="9.80" height="65.30" fill="#000" />
<rect x="483.60" y="662.60" width="9.80" height="62.70" fill="#00FFFF" />
<rect x="510.80" y="662.60" width="9.80" height="64.00" fill="#000" />
<rect x="507.80" y="662.60" width="9.80" height="61.40" fill="#00FFFF" />
<rect x="535.00" y="621.50" width="9.80" height="41.10" fill="#000" />
<rect x="532.00" y="619.00" width="9.80" height="43.60" fill="#00FFFF" />
<rect x="559.20" y="618.40" width="9.80" height="44.20" fill="#000" />
<rect x="556.20" y="615.90" width="9.80" height="46.70" fill="#00FFFF" />
<rect x="583.40" y="662.60" width="9.80" height="3.20" fill="#000" />
<rect x="607.60" y="662.60" width="9.80" height="3.20" fill="#000" />
<line x1="89.40" y1="662.60" x2="622.60" y2="662.60" stroke="#000" stroke-width="1.3" />
<line x1="113.64" y1="657.10" x2="113.64" y2="662.60" stroke="#000" stroke-width="1" />
<line x1="137.87" y1="657.10" x2="137.87" y2="662.60" stroke="#000" stroke-width="1" />
<line x1="162.11" y1="657.10" x2="162.11" y2="662.60" stroke="#000" stroke-width="1" />
<line x1="186.35" y1="657.10" x2="186.35" y2="662.60" stroke="#000" stroke-width="1" />
<line x1="210.58" y1="657.10" x2="210.58" y2="662.60" stroke="#000" stroke-width="1" />
<line x1="234.82" y1="657.10" x2="234.82" y2="662.60" stroke="#000" stroke-width="1" />
<line x1="259.05" y1="657.10" x2="259.05" y2="662.60" stroke="#000" stroke-width="1" />
<line x1="283.29" y1="657.10" x2="283.29" y2="662.60" stroke="#000" stroke-width="1" />
<line x1="307.53" y1="657.10" x2="307.53" y2="662.60" stroke="#000" stroke-width="1" />
<line x1="331.76" y1="657.10" x2="331.76" y2="662.60" stroke="#000" stroke-width="1" />
<line x1="356.00" y1="657.10" x2="356.00" y2="662.60" stroke="#000" stroke-width="1" />
<line x1="380.24" y1="657.10" x2="380.24" y2="662.60" stroke="#000" stroke-width="1" />
<line x1="404.47" y1="657.10" x2="404.47" y2="662.60" stroke="#000" stroke-width="1" />
<line x1="428.71" y1="657.10" x2="428.71" y2="662.60" stroke="#000" stroke-width="1" />
<line x1="452.95" y1="657.10" x2="452.95" y2="662.60" stroke="#000" stroke-width="1" />
<line x1="477.18" y1="657.10" x2="477.18" y2="662.60" stroke="#000" stroke-width="1" />
<line x1="501.42" y1="657.10" x2="501.42" y2="662.60" stroke="#000" stroke-width="1" />
<line x1="525.65" y1="657.10" x2="525.65" y2="662.60" stroke="#000" stroke-width="1" />
<line x1="549.89" y1="657.10" x2="549.89" y2="662.60" stroke="#000" stroke-width="1" />
<line x1="574.13" y1="657.10" x2="574.13" y2="662.60" stroke="#000" stroke-width="1" />
<line x1="598.36" y1="657.10" x2="598.36" y2="662.60" stroke="#000" stroke-width="1" />
<line x1="622.60" y1="657.10" x2="622.60" y2="662.60" stroke="#000" stroke-width="1" />
<line x1="89.40" y1="576.30" x2="89.40" y2="878.50" stroke="#000" stroke-width="1" />
<line x1="89.40" y1="576.30" x2="94.90" y2="576.30" stroke="#000" stroke-width="1" />
<line x1="89.40" y1="609.88" x2="94.90" y2="609.88" stroke="#000" stroke-width="1" />
<line x1="89.40" y1="643.46" x2="94.90" y2="643.46" stroke="#000" stroke-width="1" />
<line x1="89.40" y1="677.03" x2="94.90" y2="677.03" stroke="#000" stroke-width="1" />
<line x1="89.40" y1="710.61" x2="94.90" y2="710.61" stroke="#000" stroke-width="1" />
<line x1="89.40" y1="744.19" x2="94.90" y2="744.19" stroke="#000" stroke-width="1" />
<line x1="89.40" y1="777.77" x2="94.90" y2="777.77" stroke="#000" stroke-width="1" />
<line x1="89.40" y1="811.34" x2="94.90" y2="811.34" stroke="#000" stroke-width="1" />
<line x1="89.40" y1="844.92" x2="94.90" y2="844.92" stroke="#000" stroke-width="1" />
<line x1="89.40" y1="878.50" x2="94.90" y2="878.50" stroke="#000" stroke-width="1" />
<line x1="622.60" y1="576.30" x2="622.60" y2="878.50" stroke="#000" stroke-width="1" />
<line x1="617.10" y1="576.30" x2="622.60" y2="576.30" stroke="#000" stroke-width="1" />
<line x1="617.10" y1="619.47" x2="622.60" y2="619.47" stroke="#000" stroke-width="1" />
<line x1="617.10" y1="662.64" x2="622.60" y2="662.64" stroke="#000" stroke-width="1" />
<line x1="617.10" y1="705.81" x2="622.60" y2="705.81" stroke="#000" stroke-width="1" />
<line x1="617.10" y1="748.99" x2="622.60" y2="748.99" stroke="#000" stroke-width="1" />
<line x1="617.10" y1="792.16" x2="622.60" y2="792.16" stroke="#000" stroke-width="1" />
<line x1="617.10" y1="835.33" x2="622.60" y2="835.33" stroke="#000" stroke-width="1" />
<line x1="617.10" y1="878.50" x2="622.60" y2="878.50" stroke="#000" stroke-width="1" />
<text x="104.9" y="697.5" font-size="15.5" fill="#111" text-anchor="middle" font-family='"Liberation Serif",serif' transform="rotate(-47 104.9 692.5)" font-style="italic">9/29</text>
<text x="153.3" y="697.5" font-size="15.5" fill="#111" text-anchor="middle" font-family='"Liberation Serif",serif' transform="rotate(-47 153.3 692.5)" font-style="italic">10/5</text>
<text x="201.7" y="697.5" font-size="15.5" fill="#111" text-anchor="middle" font-family='"Liberation Serif",serif' transform="rotate(-47 201.7 692.5)" font-style="italic">10/7</text>
<text x="250.1" y="697.5" font-size="15.5" fill="#111" text-anchor="middle" font-family='"Liberation Serif",serif' transform="rotate(-47 250.1 692.5)" font-style="italic">10/12</text>
<text x="298.5" y="697.5" font-size="15.5" fill="#111" text-anchor="middle" font-family='"Liberation Serif",serif' transform="rotate(-47 298.5 692.5)" font-style="italic">10/14</text>
<text x="346.9" y="697.5" font-size="15.5" fill="#111" text-anchor="middle" font-family='"Liberation Serif",serif' transform="rotate(-47 346.9 692.5)" font-style="italic">10/16</text>
<text x="395.3" y="697.5" font-size="15.5" fill="#111" text-anchor="middle" font-family='"Liberation Serif",serif' transform="rotate(-47 395.3 692.5)" font-style="italic">10/20</text>
<text x="443.7" y="697.5" font-size="15.5" fill="#111" text-anchor="middle" font-family='"Liberation Serif",serif' transform="rotate(-47 443.7 692.5)" font-style="italic">10/22</text>
<text x="492.1" y="697.5" font-size="15.5" fill="#111" text-anchor="middle" font-family='"Liberation Serif",serif' transform="rotate(-47 492.1 692.5)" font-style="italic">10/26</text>
<text x="540.5" y="697.5" font-size="15.5" fill="#111" text-anchor="middle" font-family='"Liberation Serif",serif' transform="rotate(-47 540.5 692.5)" font-style="italic">10/28</text>
<text x="588.9" y="697.5" font-size="15.5" fill="#111" text-anchor="middle" font-family='"Liberation Serif",serif' transform="rotate(-47 588.9 692.5)" font-style="italic">10/30</text>
<polyline points="101.4,765.0 125.6,765.5 149.8,739.0 174.0,771.3 198.2,717.3 222.4,717.8 246.6,708.5 270.8,708.5 295.0,659.7 319.2,679.4 343.4,677.0 367.6,683.6 391.8,678.4 416.0,671.2 440.2,670.5 464.4,625.1 488.6,644.4 512.8,637.8 537.0,613.8 561.2,606.7 585.4,638.8 609.6,647.0" fill="none" stroke="#FFFF00" stroke-width="3.2" stroke-linejoin="round" />
<circle cx="102.9" cy="766.8" r="4.8" fill="#000"/>
<circle cx="101.4" cy="765.0" r="4.6" fill="#fff" stroke="#FFCC33" stroke-width="1.2"/>
<circle cx="127.1" cy="767.3" r="4.8" fill="#000"/>
<circle cx="125.6" cy="765.5" r="4.6" fill="#fff" stroke="#FFCC33" stroke-width="1.2"/>
<circle cx="151.3" cy="740.8" r="4.8" fill="#000"/>
<circle cx="149.8" cy="739.0" r="4.6" fill="#fff" stroke="#FFCC33" stroke-width="1.2"/>
<circle cx="175.5" cy="773.1" r="4.8" fill="#000"/>
<circle cx="174.0" cy="771.3" r="4.6" fill="#fff" stroke="#FFCC33" stroke-width="1.2"/>
<circle cx="199.7" cy="719.1" r="4.8" fill="#000"/>
<circle cx="198.2" cy="717.3" r="4.6" fill="#fff" stroke="#FFCC33" stroke-width="1.2"/>
<circle cx="223.9" cy="719.6" r="4.8" fill="#000"/>
<circle cx="222.4" cy="717.8" r="4.6" fill="#fff" stroke="#FFCC33" stroke-width="1.2"/>
<circle cx="248.1" cy="710.3" r="4.8" fill="#000"/>
<circle cx="246.6" cy="708.5" r="4.6" fill="#fff" stroke="#FFCC33" stroke-width="1.2"/>
<circle cx="272.3" cy="710.3" r="4.8" fill="#000"/>
<circle cx="270.8" cy="708.5" r="4.6" fill="#fff" stroke="#FFCC33" stroke-width="1.2"/>
<circle cx="296.5" cy="661.5" r="4.8" fill="#000"/>
<circle cx="295.0" cy="659.7" r="4.6" fill="#fff" stroke="#FFCC33" stroke-width="1.2"/>
<circle cx="320.7" cy="681.2" r="4.8" fill="#000"/>
<circle cx="319.2" cy="679.4" r="4.6" fill="#fff" stroke="#FFCC33" stroke-width="1.2"/>
<circle cx="344.9" cy="678.8" r="4.8" fill="#000"/>
<circle cx="343.4" cy="677.0" r="4.6" fill="#fff" stroke="#FFCC33" stroke-width="1.2"/>
<circle cx="369.1" cy="685.4" r="4.8" fill="#000"/>
<circle cx="367.6" cy="683.6" r="4.6" fill="#fff" stroke="#FFCC33" stroke-width="1.2"/>
<circle cx="393.3" cy="680.2" r="4.8" fill="#000"/>
<circle cx="391.8" cy="678.4" r="4.6" fill="#fff" stroke="#FFCC33" stroke-width="1.2"/>
<circle cx="417.5" cy="673.0" r="4.8" fill="#000"/>
<circle cx="416.0" cy="671.2" r="4.6" fill="#fff" stroke="#FFCC33" stroke-width="1.2"/>
<circle cx="441.7" cy="672.3" r="4.8" fill="#000"/>
<circle cx="440.2" cy="670.5" r="4.6" fill="#fff" stroke="#FFCC33" stroke-width="1.2"/>
<circle cx="465.9" cy="626.9" r="4.8" fill="#000"/>
<circle cx="464.4" cy="625.1" r="4.6" fill="#fff" stroke="#FFCC33" stroke-width="1.2"/>
<circle cx="490.1" cy="646.2" r="4.8" fill="#000"/>
<circle cx="488.6" cy="644.4" r="4.6" fill="#fff" stroke="#FFCC33" stroke-width="1.2"/>
<circle cx="514.3" cy="639.6" r="4.8" fill="#000"/>
<circle cx="512.8" cy="637.8" r="4.6" fill="#fff" stroke="#FFCC33" stroke-width="1.2"/>
<circle cx="538.5" cy="615.6" r="4.8" fill="#000"/>
<circle cx="537.0" cy="613.8" r="4.6" fill="#fff" stroke="#FFCC33" stroke-width="1.2"/>
<circle cx="562.7" cy="608.5" r="4.8" fill="#000"/>
<circle cx="561.2" cy="606.7" r="4.6" fill="#fff" stroke="#FFCC33" stroke-width="1.2"/>
<circle cx="586.9" cy="640.6" r="4.8" fill="#000"/>
<circle cx="585.4" cy="638.8" r="4.6" fill="#fff" stroke="#FFCC33" stroke-width="1.2"/>
<circle cx="611.1" cy="648.8" r="4.8" fill="#000"/>
<circle cx="609.6" cy="647.0" r="4.6" fill="#fff" stroke="#FFCC33" stroke-width="1.2"/>
<rect x="400.00" y="564.30" width="103.30" height="33.00" fill="#000" />
<rect x="397.00" y="561.30" width="103.30" height="33.00" fill="#FFFF99" stroke="#000" stroke-width="1"/>
<text x="497.5" y="585.0" font-size="16.5" fill="#0000FF" text-anchor="end" font-family='"Liberation Serif","Noto Serif CJK TC","Noto Serif CJK SC",serif' >走勢</text>
<rect x="118.40" y="561.30" width="342.80" height="43.90" fill="#969696" stroke="#000" stroke-width="1.2"/>
<rect x="131.50" y="578.60" width="29.50" height="11.00" fill="#00FFFF" stroke="#000" stroke-width="1"/>
<text x="167.5" y="591.0" font-size="17.5" fill="#fff" font-family='"Liberation Serif","Noto Serif CJK TC","Noto Serif CJK SC",serif' textLength="71" lengthAdjust="spacing">類股籌碼</text>
<line x1="259.50" y1="583.50" x2="294.50" y2="583.50" stroke="#FFFF00" stroke-width="3" />
<circle cx="276.5" cy="583.5" r="4.8" fill="#fff" stroke="#FFCC33" stroke-width="1.2"/>
<text x="298.5" y="591.0" font-size="17.5" fill="#fff" font-family='"Liberation Serif","Noto Serif CJK TC","Noto Serif CJK SC",serif' textLength="155" lengthAdjust="spacing">電子下游-資訊通路</text>
<text x="39.5" y="583.8" font-size="17" fill="#0000FF" font-weight="bold" font-family='"Liberation Serif",serif' textLength="28.5" lengthAdjust="spacingAndGlyphs">126.</text>
<text x="39.5" y="617.4" font-size="17" fill="#0000FF" font-weight="bold" font-family='"Liberation Serif",serif' textLength="28.5" lengthAdjust="spacingAndGlyphs">125.</text>
<text x="39.5" y="651.0" font-size="17" fill="#0000FF" font-weight="bold" font-family='"Liberation Serif",serif' textLength="28.5" lengthAdjust="spacingAndGlyphs">124.</text>
<text x="39.5" y="684.5" font-size="17" fill="#0000FF" font-weight="bold" font-family='"Liberation Serif",serif' textLength="28.5" lengthAdjust="spacingAndGlyphs">123.</text>
<text x="39.5" y="718.1" font-size="17" fill="#0000FF" font-weight="bold" font-family='"Liberation Serif",serif' textLength="28.5" lengthAdjust="spacingAndGlyphs">122.</text>
<text x="39.5" y="751.7" font-size="17" fill="#0000FF" font-weight="bold" font-family='"Liberation Serif",serif' textLength="28.5" lengthAdjust="spacingAndGlyphs">121.</text>
<text x="39.5" y="785.3" font-size="17" fill="#0000FF" font-weight="bold" font-family='"Liberation Serif",serif' textLength="28.5" lengthAdjust="spacingAndGlyphs">120.</text>
<text x="39.5" y="818.8" font-size="17" fill="#0000FF" font-weight="bold" font-family='"Liberation Serif",serif' textLength="28.5" lengthAdjust="spacingAndGlyphs">119.</text>
<text x="39.5" y="852.4" font-size="17" fill="#0000FF" font-weight="bold" font-family='"Liberation Serif",serif' textLength="28.5" lengthAdjust="spacingAndGlyphs">118.</text>
<text x="39.5" y="886.0" font-size="17" fill="#0000FF" font-weight="bold" font-family='"Liberation Serif",serif' textLength="28.5" lengthAdjust="spacingAndGlyphs">117.</text>
<text x="663.0" y="582.8" font-size="16.5" fill="#000" text-anchor="end" font-family='"Liberation Sans",sans-serif' textLength="28" lengthAdjust="spacingAndGlyphs">2.00</text>
<text x="663.0" y="626.0" font-size="16.5" fill="#000" text-anchor="end" font-family='"Liberation Sans",sans-serif' textLength="28" lengthAdjust="spacingAndGlyphs">1.00</text>
<text x="663.0" y="669.1" font-size="16.5" fill="#000" text-anchor="end" font-family='"Liberation Sans",sans-serif' textLength="28" lengthAdjust="spacingAndGlyphs">0.00</text>
<text x="663.0" y="712.3" font-size="16.5" fill="#000" text-anchor="end" font-family='"Liberation Sans",sans-serif' textLength="33" lengthAdjust="spacingAndGlyphs">-1.00</text>
<text x="663.0" y="755.5" font-size="16.5" fill="#000" text-anchor="end" font-family='"Liberation Sans",sans-serif' textLength="33" lengthAdjust="spacingAndGlyphs">-2.00</text>
<text x="663.0" y="798.7" font-size="16.5" fill="#000" text-anchor="end" font-family='"Liberation Sans",sans-serif' textLength="33" lengthAdjust="spacingAndGlyphs">-3.00</text>
<text x="663.0" y="841.8" font-size="16.5" fill="#000" text-anchor="end" font-family='"Liberation Sans",sans-serif' textLength="33" lengthAdjust="spacingAndGlyphs">-4.00</text>
<text x="663.0" y="885.0" font-size="16.5" fill="#000" text-anchor="end" font-family='"Liberation Sans",sans-serif' textLength="33" lengthAdjust="spacingAndGlyphs">-5.00</text>
<rect x="721.80" y="634.30" width="570.20" height="244.10" fill="#C0C0C0" />
<line x1="753.48" y1="634.30" x2="753.48" y2="878.40" stroke="#99CCFF" stroke-width="1.2" stroke-dasharray="6 3.5"/>
<line x1="785.16" y1="634.30" x2="785.16" y2="878.40" stroke="#99CCFF" stroke-width="1.2" stroke-dasharray="6 3.5"/>
<line x1="816.83" y1="634.30" x2="816.83" y2="878.40" stroke="#99CCFF" stroke-width="1.2" stroke-dasharray="6 3.5"/>
<line x1="848.51" y1="634.30" x2="848.51" y2="878.40" stroke="#99CCFF" stroke-width="1.2" stroke-dasharray="6 3.5"/>
<line x1="880.19" y1="634.30" x2="880.19" y2="878.40" stroke="#99CCFF" stroke-width="1.2" stroke-dasharray="6 3.5"/>
<line x1="911.87" y1="634.30" x2="911.87" y2="878.40" stroke="#99CCFF" stroke-width="1.2" stroke-dasharray="6 3.5"/>
<line x1="943.54" y1="634.30" x2="943.54" y2="878.40" stroke="#99CCFF" stroke-width="1.2" stroke-dasharray="6 3.5"/>
<line x1="975.22" y1="634.30" x2="975.22" y2="878.40" stroke="#99CCFF" stroke-width="1.2" stroke-dasharray="6 3.5"/>
<line x1="1006.90" y1="634.30" x2="1006.90" y2="878.40" stroke="#99CCFF" stroke-width="1.2" stroke-dasharray="6 3.5"/>
<line x1="1038.58" y1="634.30" x2="1038.58" y2="878.40" stroke="#99CCFF" stroke-width="1.2" stroke-dasharray="6 3.5"/>
<line x1="1070.26" y1="634.30" x2="1070.26" y2="878.40" stroke="#99CCFF" stroke-width="1.2" stroke-dasharray="6 3.5"/>
<line x1="1101.93" y1="634.30" x2="1101.93" y2="878.40" stroke="#99CCFF" stroke-width="1.2" stroke-dasharray="6 3.5"/>
<line x1="1133.61" y1="634.30" x2="1133.61" y2="878.40" stroke="#99CCFF" stroke-width="1.2" stroke-dasharray="6 3.5"/>
<line x1="1165.29" y1="634.30" x2="1165.29" y2="878.40" stroke="#99CCFF" stroke-width="1.2" stroke-dasharray="6 3.5"/>
<line x1="1196.97" y1="634.30" x2="1196.97" y2="878.40" stroke="#99CCFF" stroke-width="1.2" stroke-dasharray="6 3.5"/>
<line x1="1228.64" y1="634.30" x2="1228.64" y2="878.40" stroke="#99CCFF" stroke-width="1.2" stroke-dasharray="6 3.5"/>
<line x1="1260.32" y1="634.30" x2="1260.32" y2="878.40" stroke="#99CCFF" stroke-width="1.2" stroke-dasharray="6 3.5"/>
<line x1="721.80" y1="658.50" x2="1292.00" y2="658.50" stroke="#000" stroke-width="1.15" stroke-dasharray="7 4" stroke-dashoffset="-3"/>
<line x1="721.80" y1="683.50" x2="1292.00" y2="683.50" stroke="#000" stroke-width="1.15" stroke-dasharray="7 4" stroke-dashoffset="-3"/>
<line x1="721.80" y1="707.50" x2="1292.00" y2="707.50" stroke="#000" stroke-width="1.15" stroke-dasharray="7 4" stroke-dashoffset="-3"/>
<line x1="721.80" y1="731.50" x2="1292.00" y2="731.50" stroke="#000" stroke-width="1.15" stroke-dasharray="7 4" stroke-dashoffset="-3"/>
<line x1="721.80" y1="756.50" x2="1292.00" y2="756.50" stroke="#000" stroke-width="1.15" stroke-dasharray="7 4" stroke-dashoffset="-3"/>
<line x1="721.80" y1="780.50" x2="1292.00" y2="780.50" stroke="#000" stroke-width="1.15" stroke-dasharray="7 4" stroke-dashoffset="-3"/>
<line x1="721.80" y1="805.50" x2="1292.00" y2="805.50" stroke="#000" stroke-width="1.15" stroke-dasharray="7 4" stroke-dashoffset="-3"/>
<line x1="721.80" y1="829.50" x2="1292.00" y2="829.50" stroke="#000" stroke-width="1.15" stroke-dasharray="7 4" stroke-dashoffset="-3"/>
<line x1="721.80" y1="853.50" x2="1292.00" y2="853.50" stroke="#000" stroke-width="1.15" stroke-dasharray="7 4" stroke-dashoffset="-3"/>
<line x1="721.80" y1="634.30" x2="1292.00" y2="634.30" stroke="#000" stroke-width="1.2" />
<line x1="753.48" y1="634.30" x2="753.48" y2="639.80" stroke="#000" stroke-width="1" />
<line x1="785.16" y1="634.30" x2="785.16" y2="639.80" stroke="#000" stroke-width="1" />
<line x1="816.83" y1="634.30" x2="816.83" y2="639.80" stroke="#000" stroke-width="1" />
<line x1="848.51" y1="634.30" x2="848.51" y2="639.80" stroke="#000" stroke-width="1" />
<line x1="880.19" y1="634.30" x2="880.19" y2="639.80" stroke="#000" stroke-width="1" />
<line x1="911.87" y1="634.30" x2="911.87" y2="639.80" stroke="#000" stroke-width="1" />
<line x1="943.54" y1="634.30" x2="943.54" y2="639.80" stroke="#000" stroke-width="1" />
<line x1="975.22" y1="634.30" x2="975.22" y2="639.80" stroke="#000" stroke-width="1" />
<line x1="1006.90" y1="634.30" x2="1006.90" y2="639.80" stroke="#000" stroke-width="1" />
<line x1="1038.58" y1="634.30" x2="1038.58" y2="639.80" stroke="#000" stroke-width="1" />
<line x1="1070.26" y1="634.30" x2="1070.26" y2="639.80" stroke="#000" stroke-width="1" />
<line x1="1101.93" y1="634.30" x2="1101.93" y2="639.80" stroke="#000" stroke-width="1" />
<line x1="1133.61" y1="634.30" x2="1133.61" y2="639.80" stroke="#000" stroke-width="1" />
<line x1="1165.29" y1="634.30" x2="1165.29" y2="639.80" stroke="#000" stroke-width="1" />
<line x1="1196.97" y1="634.30" x2="1196.97" y2="639.80" stroke="#000" stroke-width="1" />
<line x1="1228.64" y1="634.30" x2="1228.64" y2="639.80" stroke="#000" stroke-width="1" />
<line x1="1260.32" y1="634.30" x2="1260.32" y2="639.80" stroke="#000" stroke-width="1" />
<line x1="1292.00" y1="634.30" x2="1292.00" y2="639.80" stroke="#000" stroke-width="1" />
<line x1="1292.00" y1="634.30" x2="1292.00" y2="878.40" stroke="#000" stroke-width="1" />
<line x1="721.80" y1="878.40" x2="1292.00" y2="878.40" stroke="#606060" stroke-width="1" />
<line x1="721.80" y1="633.80" x2="721.80" y2="878.90" stroke="#FF9900" stroke-width="1.6" />
<line x1="721.80" y1="634.30" x2="726.80" y2="634.30" stroke="#FF9900" stroke-width="1.2" />
<line x1="721.80" y1="658.71" x2="726.80" y2="658.71" stroke="#FF9900" stroke-width="1.2" />
<line x1="721.80" y1="683.12" x2="726.80" y2="683.12" stroke="#FF9900" stroke-width="1.2" />
<line x1="721.80" y1="707.53" x2="726.80" y2="707.53" stroke="#FF9900" stroke-width="1.2" />
<line x1="721.80" y1="731.94" x2="726.80" y2="731.94" stroke="#FF9900" stroke-width="1.2" />
<line x1="721.80" y1="756.35" x2="726.80" y2="756.35" stroke="#FF9900" stroke-width="1.2" />
<line x1="721.80" y1="780.76" x2="726.80" y2="780.76" stroke="#FF9900" stroke-width="1.2" />
<line x1="721.80" y1="805.17" x2="726.80" y2="805.17" stroke="#FF9900" stroke-width="1.2" />
<line x1="721.80" y1="829.58" x2="726.80" y2="829.58" stroke="#FF9900" stroke-width="1.2" />
<line x1="721.80" y1="853.99" x2="726.80" y2="853.99" stroke="#FF9900" stroke-width="1.2" />
<line x1="721.80" y1="878.40" x2="726.80" y2="878.40" stroke="#FF9900" stroke-width="1.2" />
<polyline points="736.6,647.5 768.3,695.5 800.0,702.0 831.7,789.3 863.4,793.3 895.1,800.6 926.7,799.0 958.4,762.4 990.1,777.4 1021.8,770.3 1053.5,763.0 1085.2,762.2 1116.9,756.4 1148.6,763.7 1180.3,745.8 1212.0,741.3 1243.6,762.2" fill="none" stroke="#000080" stroke-width="3" stroke-linejoin="round" />
<line x1="1243.64" y1="762.20" x2="1275.33" y2="756.40" stroke="#0000FF" stroke-width="3.4" />
<path d="M736.6,641.9 l5.6,5.6 l-5.6,5.6 l-5.6,-5.6z" fill="#000080"/>
<path d="M768.3,689.9 l5.6,5.6 l-5.6,5.6 l-5.6,-5.6z" fill="#000080"/>
<path d="M800.0,696.4 l5.6,5.6 l-5.6,5.6 l-5.6,-5.6z" fill="#000080"/>
<path d="M831.7,783.7 l5.6,5.6 l-5.6,5.6 l-5.6,-5.6z" fill="#000080"/>
<path d="M863.4,787.7 l5.6,5.6 l-5.6,5.6 l-5.6,-5.6z" fill="#000080"/>
<path d="M895.1,795.0 l5.6,5.6 l-5.6,5.6 l-5.6,-5.6z" fill="#000080"/>
<path d="M926.7,793.4 l5.6,5.6 l-5.6,5.6 l-5.6,-5.6z" fill="#000080"/>
<path d="M958.4,756.8 l5.6,5.6 l-5.6,5.6 l-5.6,-5.6z" fill="#000080"/>
<path d="M990.1,771.8 l5.6,5.6 l-5.6,5.6 l-5.6,-5.6z" fill="#000080"/>
<path d="M1021.8,764.7 l5.6,5.6 l-5.6,5.6 l-5.6,-5.6z" fill="#000080"/>
<path d="M1053.5,757.4 l5.6,5.6 l-5.6,5.6 l-5.6,-5.6z" fill="#000080"/>
<circle cx="1086.7" cy="763.7" r="5.6" fill="#000"/>
<circle cx="1085.2" cy="762.2" r="5.2" fill="#fff" stroke="#000080" stroke-width="1.1"/>
<path d="M1116.9,750.8 l5.6,5.6 l-5.6,5.6 l-5.6,-5.6z" fill="#000080"/>
<path d="M1148.6,758.1 l5.6,5.6 l-5.6,5.6 l-5.6,-5.6z" fill="#000080"/>
<path d="M1180.3,740.2 l5.6,5.6 l-5.6,5.6 l-5.6,-5.6z" fill="#000080"/>
<circle cx="1213.5" cy="742.8" r="5.6" fill="#000"/>
<circle cx="1212.0" cy="741.3" r="5.2" fill="#fff" stroke="#000080" stroke-width="1.1"/>
<rect x="1240.64" y="759.20" width="9.50" height="9.50" fill="#000" />
<rect x="1239.14" y="757.70" width="9.00" height="9.00" fill="#00FFFF" stroke="#0000FF" stroke-width="1"/>
<path d="M1277.3,751.4 l7.5,7.5 l-7.5,7.5 l-7.5,-7.5z" fill="#000"/>
<path d="M1275.3,748.9 l7.5,7.5 l-7.5,7.5 l-7.5,-7.5z" fill="#CCFFFF" stroke="#33FFFF" stroke-width="1.2"/>
<polyline points="736.6,667.3 768.3,671.5 800.0,672.3 831.7,705.0 863.4,699.2 895.1,687.9 926.7,680.5 958.4,673.1 990.1,667.8 1021.8,681.8 1053.5,684.4 1085.2,681.8 1116.9,678.6 1148.6,878.5 1180.3,694.4 1212.0,878.5 1243.6,694.4 1275.3,697.6" fill="none" stroke="#FFFF00" stroke-width="3.2" stroke-linejoin="round" stroke-linejoin="miter"/>
<circle cx="738.2" cy="669.1" r="4.6" fill="#000"/>
<circle cx="736.6" cy="667.3" r="4.4" fill="#909090" stroke="#fff" stroke-width="1"/>
<circle cx="769.9" cy="673.3" r="4.6" fill="#000"/>
<circle cx="768.3" cy="671.5" r="4.4" fill="#909090" stroke="#fff" stroke-width="1"/>
<circle cx="801.6" cy="674.1" r="4.6" fill="#000"/>
<circle cx="800.0" cy="672.3" r="4.4" fill="#909090" stroke="#fff" stroke-width="1"/>
<circle cx="833.3" cy="706.8" r="4.6" fill="#000"/>
<circle cx="831.7" cy="705.0" r="4.4" fill="#909090" stroke="#fff" stroke-width="1"/>
<circle cx="865.0" cy="701.0" r="4.6" fill="#000"/>
<circle cx="863.4" cy="699.2" r="4.4" fill="#909090" stroke="#fff" stroke-width="1"/>
<circle cx="896.7" cy="689.7" r="4.6" fill="#000"/>
<circle cx="895.1" cy="687.9" r="4.4" fill="#909090" stroke="#fff" stroke-width="1"/>
<circle cx="928.3" cy="682.3" r="4.6" fill="#000"/>
<circle cx="926.7" cy="680.5" r="4.4" fill="#909090" stroke="#fff" stroke-width="1"/>
<circle cx="960.0" cy="674.9" r="4.6" fill="#000"/>
<circle cx="958.4" cy="673.1" r="4.4" fill="#909090" stroke="#fff" stroke-width="1"/>
<circle cx="991.7" cy="669.6" r="4.6" fill="#000"/>
<circle cx="990.1" cy="667.8" r="4.4" fill="#909090" stroke="#fff" stroke-width="1"/>
<circle cx="1023.4" cy="683.6" r="4.6" fill="#000"/>
<circle cx="1021.8" cy="681.8" r="4.4" fill="#909090" stroke="#fff" stroke-width="1"/>
<circle cx="1055.1" cy="686.2" r="4.6" fill="#000"/>
<circle cx="1053.5" cy="684.4" r="4.4" fill="#909090" stroke="#fff" stroke-width="1"/>
<circle cx="1086.8" cy="683.6" r="4.6" fill="#000"/>
<circle cx="1085.2" cy="681.8" r="4.4" fill="#909090" stroke="#fff" stroke-width="1"/>
<circle cx="1118.5" cy="680.4" r="4.6" fill="#000"/>
<circle cx="1116.9" cy="678.6" r="4.4" fill="#909090" stroke="#fff" stroke-width="1"/>
<circle cx="1150.2" cy="880.3" r="4.6" fill="#000"/>
<circle cx="1148.6" cy="878.5" r="4.4" fill="#909090" stroke="#fff" stroke-width="1"/>
<circle cx="1181.9" cy="696.2" r="4.6" fill="#000"/>
<circle cx="1180.3" cy="694.4" r="4.4" fill="#909090" stroke="#fff" stroke-width="1"/>
<circle cx="1213.5" cy="880.3" r="4.6" fill="#000"/>
<circle cx="1212.0" cy="878.5" r="4.4" fill="#909090" stroke="#fff" stroke-width="1"/>
<circle cx="1245.2" cy="696.2" r="4.6" fill="#000"/>
<circle cx="1243.6" cy="694.4" r="4.4" fill="#909090" stroke="#fff" stroke-width="1"/>
<circle cx="1276.9" cy="699.4" r="4.6" fill="#000"/>
<circle cx="1275.3" cy="697.6" r="4.4" fill="#909090" stroke="#fff" stroke-width="1"/>
<text x="741.2" y="628.2" font-size="16" fill="#000" font-family='"Liberation Serif","Noto Serif CJK TC","Noto Serif CJK SC",serif' transform="rotate(-90 741.2 628.2)" textLength="63.5" lengthAdjust="spacing">19年05月</text>
<text x="772.9" y="628.2" font-size="16" fill="#000" font-family='"Liberation Serif","Noto Serif CJK TC","Noto Serif CJK SC",serif' transform="rotate(-90 772.9 628.2)" textLength="63.5" lengthAdjust="spacing">19年06月</text>
<text x="804.6" y="628.2" font-size="16" fill="#000" font-family='"Liberation Serif","Noto Serif CJK TC","Noto Serif CJK SC",serif' transform="rotate(-90 804.6 628.2)" textLength="63.5" lengthAdjust="spacing">19年07月</text>
<text x="836.3" y="628.2" font-size="16" fill="#000" font-family='"Liberation Serif","Noto Serif CJK TC","Noto Serif CJK SC",serif' transform="rotate(-90 836.3 628.2)" textLength="63.5" lengthAdjust="spacing">19年08月</text>
<text x="868.0" y="628.2" font-size="16" fill="#000" font-family='"Liberation Serif","Noto Serif CJK TC","Noto Serif CJK SC",serif' transform="rotate(-90 868.0 628.2)" textLength="63.5" lengthAdjust="spacing">19年09月</text>
<text x="899.7" y="628.2" font-size="16" fill="#000" font-family='"Liberation Serif","Noto Serif CJK TC","Noto Serif CJK SC",serif' transform="rotate(-90 899.7 628.2)" textLength="63.5" lengthAdjust="spacing">19年10月</text>
<text x="931.3" y="628.2" font-size="16" fill="#000" font-family='"Liberation Serif","Noto Serif CJK TC","Noto Serif CJK SC",serif' transform="rotate(-90 931.3 628.2)" textLength="63.5" lengthAdjust="spacing">19年11月</text>
<text x="963.0" y="628.2" font-size="16" fill="#000" font-family='"Liberation Serif","Noto Serif CJK TC","Noto Serif CJK SC",serif' transform="rotate(-90 963.0 628.2)" textLength="63.5" lengthAdjust="spacing">19年12月</text>
<text x="994.7" y="628.2" font-size="16" fill="#000" font-family='"Liberation Serif","Noto Serif CJK TC","Noto Serif CJK SC",serif' transform="rotate(-90 994.7 628.2)" textLength="63.5" lengthAdjust="spacing">20年01月</text>
<text x="1026.4" y="628.2" font-size="16" fill="#000" font-family='"Liberation Serif","Noto Serif CJK TC","Noto Serif CJK SC",serif' transform="rotate(-90 1026.4 628.2)" textLength="63.5" lengthAdjust="spacing">20年02月</text>
<text x="1058.1" y="628.2" font-size="16" fill="#000" font-family='"Liberation Serif","Noto Serif CJK TC","Noto Serif CJK SC",serif' transform="rotate(-90 1058.1 628.2)" textLength="63.5" lengthAdjust="spacing">20年03月</text>
<text x="1089.8" y="628.2" font-size="16" fill="#000" font-family='"Liberation Serif","Noto Serif CJK TC","Noto Serif CJK SC",serif' transform="rotate(-90 1089.8 628.2)" textLength="63.5" lengthAdjust="spacing">20年04月</text>
<text x="1121.5" y="628.2" font-size="16" fill="#000" font-family='"Liberation Serif","Noto Serif CJK TC","Noto Serif CJK SC",serif' transform="rotate(-90 1121.5 628.2)" textLength="63.5" lengthAdjust="spacing">20年05月</text>
<text x="1153.2" y="628.2" font-size="16" fill="#000" font-family='"Liberation Serif","Noto Serif CJK TC","Noto Serif CJK SC",serif' transform="rotate(-90 1153.2 628.2)" textLength="63.5" lengthAdjust="spacing">20年06月</text>
<text x="1184.9" y="628.2" font-size="16" fill="#000" font-family='"Liberation Serif","Noto Serif CJK TC","Noto Serif CJK SC",serif' transform="rotate(-90 1184.9 628.2)" textLength="63.5" lengthAdjust="spacing">20年07月</text>
<text x="1216.5" y="628.2" font-size="16" fill="#000" font-family='"Liberation Serif","Noto Serif CJK TC","Noto Serif CJK SC",serif' transform="rotate(-90 1216.5 628.2)" textLength="63.5" lengthAdjust="spacing">20年08月</text>
<text x="1248.2" y="628.2" font-size="16" fill="#000" font-family='"Liberation Serif","Noto Serif CJK TC","Noto Serif CJK SC",serif' transform="rotate(-90 1248.2 628.2)" textLength="63.5" lengthAdjust="spacing">20年09月</text>
<text x="1279.9" y="628.2" font-size="16" fill="#000" font-family='"Liberation Serif","Noto Serif CJK TC","Noto Serif CJK SC",serif' transform="rotate(-90 1279.9 628.2)" textLength="63.5" lengthAdjust="spacing">20年10月</text>
<rect x="722.20" y="827.50" width="206.60" height="49.30" fill="#CCCCFF" stroke="#808080" stroke-width="1"/>
<line x1="734.00" y1="841.50" x2="762.50" y2="841.50" stroke="#000080" stroke-width="2.6" />
<path d="M748,836.2 l5.3,5.3 l-5.3,5.3 l-5.3,-5.3z" fill="#000080"/>
<text x="767.0" y="848.5" font-size="17" fill="#222" font-family='"Liberation Serif","Noto Serif CJK TC","Noto Serif CJK SC",serif' textLength="150" lengthAdjust="spacing">大戶(扣除外資法人)</text>
<line x1="734.00" y1="864.00" x2="762.50" y2="864.00" stroke="#FFFF00" stroke-width="2.6" />
<circle cx="748" cy="864" r="4.2" fill="#909090" stroke="#fff" stroke-width="1"/>
<text x="767.0" y="871.5" font-size="17" fill="#222" font-family='"Liberation Serif","Noto Serif CJK TC","Noto Serif CJK SC",serif' >月收盤股價</text>
<text x="703.5" y="641.3" font-size="16.5" fill="#FF6600" text-anchor="end" font-family='"Liberation Sans",sans-serif' textLength="16.5" lengthAdjust="spacingAndGlyphs" stroke="#FF6600" stroke-width="0.3">50</text>
<text x="1303.5" y="641.3" font-size="16.5" fill="#0000FF" font-family='"Liberation Sans",sans-serif' textLength="19" lengthAdjust="spacingAndGlyphs">65.</text>
<text x="703.5" y="665.7" font-size="16.5" fill="#FF6600" text-anchor="end" font-family='"Liberation Sans",sans-serif' textLength="16.5" lengthAdjust="spacingAndGlyphs" stroke="#FF6600" stroke-width="0.3">45</text>
<text x="1303.5" y="665.7" font-size="16.5" fill="#0000FF" font-family='"Liberation Sans",sans-serif' textLength="19" lengthAdjust="spacingAndGlyphs">64.</text>
<text x="703.5" y="690.1" font-size="16.5" fill="#FF6600" text-anchor="end" font-family='"Liberation Sans",sans-serif' textLength="16.5" lengthAdjust="spacingAndGlyphs" stroke="#FF6600" stroke-width="0.3">40</text>
<text x="1303.5" y="690.1" font-size="16.5" fill="#0000FF" font-family='"Liberation Sans",sans-serif' textLength="19" lengthAdjust="spacingAndGlyphs">63.</text>
<text x="703.5" y="714.5" font-size="16.5" fill="#FF6600" text-anchor="end" font-family='"Liberation Sans",sans-serif' textLength="16.5" lengthAdjust="spacingAndGlyphs" stroke="#FF6600" stroke-width="0.3">35</text>
<text x="1303.5" y="714.5" font-size="16.5" fill="#0000FF" font-family='"Liberation Sans",sans-serif' textLength="19" lengthAdjust="spacingAndGlyphs">62.</text>
<text x="703.5" y="738.9" font-size="16.5" fill="#FF6600" text-anchor="end" font-family='"Liberation Sans",sans-serif' textLength="16.5" lengthAdjust="spacingAndGlyphs" stroke="#FF6600" stroke-width="0.3">30</text>
<text x="1303.5" y="738.9" font-size="16.5" fill="#0000FF" font-family='"Liberation Sans",sans-serif' textLength="19" lengthAdjust="spacingAndGlyphs">61.</text>
<text x="703.5" y="763.3" font-size="16.5" fill="#FF6600" text-anchor="end" font-family='"Liberation Sans",sans-serif' textLength="16.5" lengthAdjust="spacingAndGlyphs" stroke="#FF6600" stroke-width="0.3">25</text>
<text x="1303.5" y="763.3" font-size="16.5" fill="#0000FF" font-family='"Liberation Sans",sans-serif' textLength="19" lengthAdjust="spacingAndGlyphs">60.</text>
<text x="703.5" y="787.8" font-size="16.5" fill="#FF6600" text-anchor="end" font-family='"Liberation Sans",sans-serif' textLength="16.5" lengthAdjust="spacingAndGlyphs" stroke="#FF6600" stroke-width="0.3">20</text>
<text x="1303.5" y="787.8" font-size="16.5" fill="#0000FF" font-family='"Liberation Sans",sans-serif' textLength="19" lengthAdjust="spacingAndGlyphs">59.</text>
<text x="703.5" y="812.2" font-size="16.5" fill="#FF6600" text-anchor="end" font-family='"Liberation Sans",sans-serif' textLength="16.5" lengthAdjust="spacingAndGlyphs" stroke="#FF6600" stroke-width="0.3">15</text>
<text x="1303.5" y="812.2" font-size="16.5" fill="#0000FF" font-family='"Liberation Sans",sans-serif' textLength="19" lengthAdjust="spacingAndGlyphs">58.</text>
<text x="703.5" y="836.6" font-size="16.5" fill="#FF6600" text-anchor="end" font-family='"Liberation Sans",sans-serif' textLength="16.5" lengthAdjust="spacingAndGlyphs" stroke="#FF6600" stroke-width="0.3">10</text>
<text x="1303.5" y="836.6" font-size="16.5" fill="#0000FF" font-family='"Liberation Sans",sans-serif' textLength="19" lengthAdjust="spacingAndGlyphs">57.</text>
<text x="703.5" y="861.0" font-size="16.5" fill="#FF6600" text-anchor="end" font-family='"Liberation Sans",sans-serif' textLength="8.5" lengthAdjust="spacingAndGlyphs" stroke="#FF6600" stroke-width="0.3">5</text>
<text x="1303.5" y="861.0" font-size="16.5" fill="#0000FF" font-family='"Liberation Sans",sans-serif' textLength="19" lengthAdjust="spacingAndGlyphs">56.</text>
<text x="703.5" y="885.4" font-size="16.5" fill="#FF6600" text-anchor="end" font-family='"Liberation Sans",sans-serif' textLength="8.5" lengthAdjust="spacingAndGlyphs" stroke="#FF6600" stroke-width="0.3">0</text>
<text x="1303.5" y="885.4" font-size="16.5" fill="#0000FF" font-family='"Liberation Sans",sans-serif' textLength="19" lengthAdjust="spacingAndGlyphs">55.</text>
<text x="33.5" y="922.0" font-size="12.3" fill="#000" font-family='"Liberation Serif","Noto Serif CJK TC","Noto Serif CJK SC",serif' textLength="1176" lengthAdjust="spacing">*本著作權係屬「投資教練網站」所有，僅供訂戶非商業目的之自用。禁止以紙張或電子媒介，其他任何形式翻印、複製、傳遞、引用部份或全部內容。資料來源或推導之數字雖已經過仔細求證，但不保證毫無錯誤。</text>
<rect x="30.00" y="19.00" width="1310.00" height="185.00" fill="#000" />
<rect x="32.00" y="20.50" width="157.00" height="23.50" fill="#CCFFFF" />
<rect x="191.00" y="20.50" width="166.00" height="23.50" fill="#CCFFCC" />
<rect x="359.00" y="20.50" width="318.00" height="68.60" fill="#fff" />
<rect x="32.00" y="45.60" width="80.90" height="20.40" fill="#FFFF99" />
<rect x="114.90" y="45.60" width="242.10" height="20.40" fill="#FFFF99" />
<rect x="32.00" y="67.80" width="80.90" height="21.30" fill="#CCFFFF" />
<rect x="114.90" y="67.80" width="74.10" height="21.30" fill="#CCFFFF" />
<rect x="191.00" y="67.80" width="82.00" height="21.30" fill="#FFFF99" />
<rect x="274.90" y="67.80" width="82.10" height="21.30" fill="#CCFFFF" />
<rect x="32.00" y="91.10" width="80.90" height="22.80" fill="#00FF00" />
<rect x="114.90" y="91.10" width="74.10" height="22.80" fill="#99CCFF" />
<rect x="191.00" y="91.10" width="82.00" height="22.80" fill="#99CCFF" />
<rect x="274.90" y="91.10" width="82.10" height="22.80" fill="#99CCFF" />
<rect x="359.00" y="91.10" width="84.90" height="22.80" fill="#99CCFF" />
<rect x="446.00" y="91.10" width="74.00" height="22.80" fill="#99CCFF" />
<rect x="522.00" y="91.10" width="74.20" height="22.80" fill="#99CCFF" />
<rect x="597.20" y="91.10" width="79.80" height="22.80" fill="#99CCFF" />
<rect x="32.00" y="116.90" width="80.90" height="20.00" fill="#CCFFFF" />
<rect x="114.90" y="116.90" width="74.10" height="20.00" fill="#CCFFFF" />
<rect x="191.00" y="116.90" width="82.00" height="20.00" fill="#CCFFFF" />
<rect x="274.90" y="116.90" width="82.10" height="20.00" fill="#CCFFFF" />
<rect x="359.00" y="116.90" width="84.90" height="20.00" fill="#CCFFFF" />
<rect x="446.00" y="116.90" width="74.00" height="20.00" fill="#CCFFFF" />
<rect x="522.00" y="116.90" width="74.20" height="20.00" fill="#CCFFFF" />
<rect x="597.20" y="116.90" width="79.80" height="20.00" fill="#CCFFFF" />
<rect x="32.00" y="138.90" width="80.90" height="19.80" fill="#00FF00" />
<rect x="114.90" y="138.90" width="74.10" height="19.80" fill="#CCFFFF" />
<rect x="191.00" y="138.90" width="82.00" height="20.15" fill="#CCFFFF" />
<rect x="274.90" y="138.90" width="82.10" height="20.15" fill="#CCFFFF" />
<rect x="359.00" y="138.90" width="84.90" height="20.15" fill="#CCFFFF" />
<rect x="446.00" y="138.90" width="74.00" height="20.15" fill="#CCFFFF" />
<rect x="522.00" y="138.90" width="74.20" height="20.15" fill="#FFFFCC" />
<rect x="597.20" y="138.90" width="79.80" height="20.15" fill="#CCFFFF" />
<rect x="32.00" y="160.30" width="80.90" height="19.70" fill="#00FF00" />
<rect x="114.90" y="160.30" width="74.10" height="19.70" fill="#CCFFFF" />
<rect x="191.00" y="159.95" width="82.00" height="20.40" fill="#CCFFFF" />
<rect x="274.90" y="159.95" width="82.10" height="20.40" fill="#CCFFFF" />
<rect x="359.00" y="159.95" width="84.90" height="20.40" fill="#CCFFFF" />
<rect x="446.00" y="159.95" width="74.00" height="20.40" fill="#CCFFFF" />
<rect x="522.00" y="159.95" width="74.20" height="20.40" fill="#FFFFCC" />
<rect x="597.20" y="159.95" width="79.80" height="20.40" fill="#CCFFFF" />
<rect x="32.00" y="182.00" width="80.90" height="19.80" fill="#00FF00" />
<rect x="114.90" y="182.00" width="74.10" height="19.80" fill="#CCFFFF" />
<rect x="191.00" y="181.65" width="82.00" height="20.15" fill="#CCFFFF" />
<rect x="274.90" y="181.65" width="82.10" height="20.15" fill="#CCFFFF" />
<rect x="359.00" y="181.65" width="84.90" height="20.15" fill="#CCFFFF" />
<rect x="446.00" y="181.65" width="74.00" height="20.15" fill="#CCFFFF" />
<rect x="522.00" y="181.65" width="74.20" height="20.15" fill="#FFFFCC" />
<rect x="597.20" y="181.65" width="79.80" height="20.15" fill="#CCFFFF" />
<rect x="677.50" y="20.50" width="99.20" height="45.50" fill="#0000FF" />
<rect x="776.70" y="20.50" width="104.90" height="45.50" fill="#FF00FF" />
<rect x="881.60" y="20.50" width="74.90" height="45.50" fill="#0000FF" />
<rect x="956.50" y="20.50" width="108.00" height="45.50" fill="#333399" />
<rect x="679.50" y="67.80" width="96.50" height="21.30" fill="#CCFFFF" />
<rect x="778.00" y="67.80" width="560.00" height="21.30" fill="#CCFFFF" />
<rect x="679.50" y="91.10" width="96.50" height="22.80" fill="#C0C0C0" />
<rect x="778.00" y="91.10" width="102.60" height="22.80" fill="#C0C0C0" />
<rect x="882.40" y="91.10" width="73.20" height="22.80" fill="#808080" />
<rect x="957.40" y="91.10" width="105.90" height="22.80" fill="#C0C0C0" />
<rect x="1066.00" y="91.10" width="170.00" height="22.80" fill="#C0C0C0" />
<rect x="1238.00" y="91.10" width="100.00" height="22.80" fill="#C0C0C0" />
<rect x="679.50" y="116.90" width="96.50" height="20.00" fill="#CCFFFF" />
<rect x="778.00" y="116.90" width="102.60" height="20.00" fill="#CCFFFF" />
<rect x="882.40" y="116.90" width="73.20" height="20.00" fill="#CCFFFF" />
<rect x="957.40" y="116.90" width="105.90" height="20.00" fill="#CCFFFF" />
<rect x="1066.00" y="116.90" width="170.00" height="20.00" fill="#CCFFFF" />
<rect x="1238.00" y="116.90" width="100.00" height="20.00" fill="#CCFFFF" />
<rect x="679.50" y="138.90" width="96.50" height="19.80" fill="#C0C0C0" />
<rect x="778.00" y="138.90" width="102.60" height="19.80" fill="#C0C0C0" />
<rect x="882.40" y="138.90" width="73.20" height="19.80" fill="#808080" />
<rect x="957.40" y="138.90" width="105.90" height="19.80" fill="#C0C0C0" />
<rect x="1066.00" y="138.90" width="170.00" height="19.80" fill="#C0C0C0" />
<rect x="1238.00" y="138.90" width="100.00" height="19.80" fill="#C0C0C0" />
<rect x="679.50" y="160.30" width="96.50" height="19.70" fill="#C0C0C0" />
<rect x="778.00" y="160.30" width="102.60" height="19.70" fill="#C0C0C0" />
<rect x="882.40" y="160.30" width="73.20" height="19.70" fill="#808080" />
<rect x="957.40" y="160.30" width="105.90" height="19.70" fill="#C0C0C0" />
<rect x="1066.00" y="160.30" width="170.00" height="19.70" fill="#FFCC00" />
<rect x="1238.00" y="160.30" width="100.00" height="19.70" fill="#FFCC00" />
<rect x="679.50" y="182.00" width="96.50" height="19.80" fill="#C0C0C0" />
<rect x="778.00" y="182.00" width="102.60" height="19.80" fill="#C0C0C0" />
<rect x="882.40" y="182.00" width="73.20" height="19.80" fill="#808080" />
<rect x="957.40" y="182.00" width="105.90" height="19.80" fill="#C0C0C0" />
<rect x="1066.00" y="182.00" width="170.00" height="19.80" fill="#FFCC00" />
<rect x="1238.00" y="182.00" width="100.00" height="19.80" fill="#FFCC00" />
<text x="71.5" y="39.8" font-size="20" fill="#000" text-anchor="middle" font-weight="bold" font-family='"Liberation Serif","Noto Serif CJK TC","Noto Serif CJK SC",serif' >6123</text>
<text x="118.0" y="39.6" font-size="17" fill="#000" font-family='"Liberation Serif","Noto Serif CJK TC","Noto Serif CJK SC",serif' textLength="49" lengthAdjust="spacing"><tspan font-family="Noto Serif CJK TC,Noto Serif CJK SC,serif" font-size="15" font-weight="bold">←</tspan>股號</text>
<text x="193.0" y="39.6" font-size="16.8" fill="#0000FF" font-family='"Liberation Serif","Noto Serif CJK TC","Noto Serif CJK SC",serif' textLength="128.5" lengthAdjust="spacing">集保股票:55143張</text>
<text x="111.5" y="63.4" font-size="16.5" fill="#800080" text-anchor="end" font-family='"Liberation Serif","Noto Serif CJK TC","Noto Serif CJK SC",serif' >6123 上奇</text>
<text x="121.5" y="63.4" font-size="16.7" fill="#0000FF" font-family='"Liberation Serif","Noto Serif CJK TC","Noto Serif CJK SC",serif' textLength="194" lengthAdjust="spacing">&lt;類股&gt; 電子下游-資訊通路</text>
<text x="73.5" y="84.6" font-size="20" fill="#0000FF" text-anchor="middle" font-weight="bold" font-family='"Liberation Serif","Noto Serif CJK TC","Noto Serif CJK SC",serif' >0.</text>
<text x="118.0" y="84.6" font-size="19" fill="#0000FF" font-weight="bold" font-family='"Liberation Serif","Noto Serif CJK TC","Noto Serif CJK SC",serif' font-style="italic">%</text>
<text x="36.0" y="109.7" font-size="17.5" fill="#0000FF" font-family='"Liberation Serif","Noto Serif CJK TC","Noto Serif CJK SC",serif' textLength="72.5" lengthAdjust="spacingAndGlyphs">大戶籌碼</text>
<text x="120.0" y="109.7" font-size="17.5" fill="#000" font-family='"Liberation Serif","Noto Serif CJK TC","Noto Serif CJK SC",serif' textLength="65.5" lengthAdjust="spacingAndGlyphs">日買賣超</text>
<text x="196.0" y="109.7" font-size="17.5" fill="#000" font-family='"Liberation Serif","Noto Serif CJK TC","Noto Serif CJK SC",serif' textLength="74.0" lengthAdjust="spacingAndGlyphs">大戶-法人</text>
<text x="299.5" y="109.7" font-size="17.5" fill="#000" font-family='"Liberation Serif","Noto Serif CJK TC","Noto Serif CJK SC",serif' textLength="33.5" lengthAdjust="spacingAndGlyphs">漲跌</text>
<text x="368.0" y="109.7" font-size="17.5" fill="#000" font-family='"Liberation Serif","Noto Serif CJK TC","Noto Serif CJK SC",serif' textLength="64.0" lengthAdjust="spacingAndGlyphs">法人買賣</text>
<text x="467.5" y="109.7" font-size="17.5" fill="#000" font-family='"Liberation Serif","Noto Serif CJK TC","Noto Serif CJK SC",serif' textLength="31.0" lengthAdjust="spacingAndGlyphs">日期</text>
<text x="524.5" y="109.7" font-size="17.5" fill="#000" font-family='"Liberation Serif","Noto Serif CJK TC","Noto Serif CJK SC",serif' textLength="67.0" lengthAdjust="spacingAndGlyphs">日收盤價</text>
<text x="597.8" y="109.7" font-size="17.5" fill="#000" font-family='"Liberation Serif","Noto Serif CJK TC","Noto Serif CJK SC",serif' textLength="63.2" lengthAdjust="spacingAndGlyphs">類股指數</text>
<text x="151.9" y="132.7" font-size="17" fill="#0000FF" text-anchor="middle" font-family='"Liberation Serif","Noto Serif CJK TC","Noto Serif CJK SC",serif' >本月至今</text>
<text x="483.0" y="132.7" font-size="17" fill="#0000FF" text-anchor="middle" font-family='"Liberation Serif","Noto Serif CJK TC","Noto Serif CJK SC",serif' >張</text>
<text x="660.5" y="132.7" font-size="15" fill="#0000FF" text-anchor="end" font-family='"Liberation Serif","Noto Serif CJK TC","Noto Serif CJK SC",serif' >d</text>
<text x="110.5" y="154.4" font-size="18" fill="#FF0000" text-anchor="end" font-weight="bold" font-family='"Liberation Serif","Noto Serif CJK TC","Noto Serif CJK SC",serif' >-70</text>
<text x="151.9" y="154.4" font-size="17.5" fill="#000" text-anchor="middle" font-family='"Liberation Serif","Noto Serif CJK TC","Noto Serif CJK SC",serif' textLength="67.1" lengthAdjust="spacingAndGlyphs">日買<tspan fill="#FF0000">賣</tspan>超</text>
<text x="270.5" y="154.4" font-size="18" fill="#FF0000" text-anchor="end" font-weight="bold" font-family='"Liberation Serif","Noto Serif CJK TC","Noto Serif CJK SC",serif' >-74</text>
<text x="313.3" y="154.4" font-size="18" fill="#FF0000" text-anchor="middle" font-weight="bold" font-family='"Liberation Serif","Noto Serif CJK TC","Noto Serif CJK SC",serif' >-0.05</text>
<text x="437.5" y="154.4" font-size="18" fill="#000" text-anchor="end" font-weight="bold" font-family='"Liberation Serif","Noto Serif CJK TC","Noto Serif CJK SC",serif' >4</text>
<text x="448.8" y="154.4" font-size="17" fill="#000080" font-weight="bold" font-family='"Liberation Serif","Noto Sans CJK TC","Noto Sans CJK SC",serif' textLength="66.5" lengthAdjust="spacingAndGlyphs">10月30日</text>
<text x="553.0" y="154.4" font-size="20" fill="#993300" text-anchor="middle" font-weight="bold" font-family='"Liberation Serif","Noto Serif CJK TC","Noto Serif CJK SC",serif' >37.1</text>
<text x="660.5" y="154.4" font-size="19" fill="#0000FF" text-anchor="end" font-weight="bold" font-family='"Liberation Serif","Noto Serif CJK TC","Noto Serif CJK SC",serif' >123.9</text>
<text x="110.5" y="175.7" font-size="18" fill="#FF0000" text-anchor="end" font-weight="bold" font-family='"Liberation Serif","Noto Serif CJK TC","Noto Serif CJK SC",serif' >-70</text>
<text x="151.9" y="175.7" font-size="17.5" fill="#000" text-anchor="middle" font-family='"Liberation Serif","Noto Serif CJK TC","Noto Serif CJK SC",serif' textLength="67.1" lengthAdjust="spacingAndGlyphs">日買<tspan fill="#FF0000">賣</tspan>超</text>
<text x="270.5" y="175.7" font-size="16.5" fill="#FF0000" text-anchor="end" font-family='"Liberation Serif","Noto Serif CJK TC","Noto Serif CJK SC",serif' >-74</text>
<text x="313.3" y="175.7" font-size="18" fill="#000" text-anchor="middle" font-weight="bold" font-family='"Liberation Serif","Noto Serif CJK TC","Noto Serif CJK SC",serif' >0.65</text>
<text x="437.5" y="175.7" font-size="16.5" fill="#000" text-anchor="end" font-family='"Liberation Serif","Noto Serif CJK TC","Noto Serif CJK SC",serif' >4</text>
<text x="448.8" y="175.7" font-size="17" fill="#000080" font-weight="bold" font-family='"Liberation Serif","Noto Sans CJK TC","Noto Sans CJK SC",serif' textLength="66.5" lengthAdjust="spacingAndGlyphs">10月29日</text>
<text x="540.5" y="175.7" font-size="15.5" fill="#993300" font-family='"Liberation Serif","Noto Serif CJK TC","Noto Serif CJK SC",serif' letter-spacing="1">37.15</text>
<text x="659.5" y="175.7" font-size="15.5" fill="#0000FF" text-anchor="end" font-family='"Liberation Serif","Noto Serif CJK TC","Noto Serif CJK SC",serif' letter-spacing="1">124.1</text>
<text x="110.5" y="197.5" font-size="18" fill="#FF0000" text-anchor="end" font-weight="bold" font-family='"Liberation Serif","Noto Serif CJK TC","Noto Serif CJK SC",serif' >-70</text>
<text x="151.9" y="197.5" font-size="17.5" fill="#000" text-anchor="middle" font-family='"Liberation Serif","Noto Serif CJK TC","Noto Serif CJK SC",serif' textLength="67.1" lengthAdjust="spacingAndGlyphs">日買<tspan fill="#FF0000">賣</tspan>超</text>
<text x="270.5" y="197.5" font-size="16.5" fill="#FF0000" text-anchor="end" font-family='"Liberation Serif","Noto Serif CJK TC","Noto Serif CJK SC",serif' >-71</text>
<text x="313.3" y="197.5" font-size="18" fill="#000" text-anchor="middle" font-weight="bold" font-family='"Liberation Serif","Noto Serif CJK TC","Noto Serif CJK SC",serif' >0.20</text>
<text x="437.5" y="197.5" font-size="16.5" fill="#000" text-anchor="end" font-family='"Liberation Serif","Noto Serif CJK TC","Noto Serif CJK SC",serif' >1</text>
<text x="448.8" y="197.5" font-size="17" fill="#000080" font-weight="bold" font-family='"Liberation Serif","Noto Sans CJK TC","Noto Sans CJK SC",serif' textLength="66.5" lengthAdjust="spacingAndGlyphs">10月28日</text>
<text x="540.5" y="197.5" font-size="15.5" fill="#993300" font-family='"Liberation Serif","Noto Serif CJK TC","Noto Serif CJK SC",serif' letter-spacing="1">37.5</text>
<text x="659.5" y="197.5" font-size="15.5" fill="#0000FF" text-anchor="end" font-family='"Liberation Serif","Noto Serif CJK TC","Noto Serif CJK SC",serif' letter-spacing="1">125.1</text>
<text x="522.5" y="66.7" font-size="39" fill="#1E6FC0" text-anchor="middle" font-weight="bold" font-family='"Liberation Sans",sans-serif' textLength="278" lengthAdjust="spacingAndGlyphs" style="filter:url(#lgsh)">www.icoach5.com</text>
<text x="728.0" y="41.5" font-size="19" fill="#FFFF00" text-anchor="middle" font-weight="900" font-family='"Liberation Serif","Noto Serif CJK TC","Noto Serif CJK SC",serif' >月大戶</text>
<text x="728.0" y="64.5" font-size="19" fill="#FFFF00" text-anchor="middle" font-weight="900" font-family='"Liberation Serif","Noto Serif CJK TC","Noto Serif CJK SC",serif' textLength="95" lengthAdjust="spacingAndGlyphs">籌碼百分比</text>
<text x="781.0" y="41.5" font-size="19" fill="#fff" font-weight="900" font-family='"Liberation Serif","Noto Serif CJK TC","Noto Serif CJK SC",serif' textLength="100" lengthAdjust="spacingAndGlyphs">短期:下降<tspan font-family="Noto Sans CJK TC,Noto Sans CJK SC,sans-serif" font-weight="900">↓</tspan></text>
<text x="781.0" y="64.5" font-size="19" fill="#fff" font-weight="900" font-family='"Liberation Serif","Noto Serif CJK TC","Noto Serif CJK SC",serif' textLength="84" lengthAdjust="spacingAndGlyphs">中期:中性</text>
<text x="919.0" y="41.5" font-size="19" fill="#FFFF00" text-anchor="middle" font-weight="900" font-family='"Liberation Serif","Noto Serif CJK TC","Noto Serif CJK SC",serif' >月趨勢</text>
<text x="919.0" y="64.5" font-size="19" fill="#FFFF00" text-anchor="middle" font-weight="900" font-family='"Liberation Serif","Noto Serif CJK TC","Noto Serif CJK SC",serif' >升降</text>
<text x="960.0" y="41.5" font-size="19" fill="#fff" font-weight="900" font-family='"Liberation Serif","Noto Serif CJK TC","Noto Serif CJK SC",serif' textLength="100" lengthAdjust="spacingAndGlyphs">短期:下降<tspan font-family="Noto Sans CJK TC,Noto Sans CJK SC,sans-serif" font-weight="900">↓</tspan></text>
<text x="960.0" y="64.5" font-size="19" fill="#fff" font-weight="900" font-family='"Liberation Serif","Noto Serif CJK TC","Noto Serif CJK SC",serif' textLength="84" lengthAdjust="spacingAndGlyphs">中期:中性</text>
<text x="728.0" y="85.3" font-size="16.5" fill="#FF00FF" text-anchor="middle" font-family='"Liberation Serif","Noto Serif CJK TC","Noto Serif CJK SC",serif' textLength="63" lengthAdjust="spacing">評分:-2.0</text>
<g clip-path="url(#r3clip)">
<text x="884.5" y="87.3" font-size="17.8" fill="#000" font-family='"Liberation Serif","Noto Serif CJK TC","Noto Serif CJK SC",serif' >月線籌碼</text>
<text x="958.0" y="88.1" font-size="20" fill="#000080" font-weight="900" font-family='"Noto Sans CJK TC","Noto Sans CJK SC",sans-serif' >→</text>
<text x="990.5" y="89.0" font-size="19.5" fill="#000080" font-weight="900" font-family='"Liberation Serif","Noto Serif CJK TC","Noto Serif CJK SC",serif' >主導方</text>
</g>
<text x="727.5" y="110.9" font-size="17" fill="#000" text-anchor="middle" font-family='"Liberation Serif","Noto Serif CJK TC","Noto Serif CJK SC",serif' >月份</text>
<text x="829.5" y="110.9" font-size="18" fill="#FF00FF" text-anchor="middle" font-weight="900" font-family='"Liberation Serif","Noto Serif CJK TC","Noto Serif CJK SC",serif' textLength="92" lengthAdjust="spacingAndGlyphs">大戶集中度</text>
<text x="919.0" y="110.9" font-size="17" fill="#FFEE00" text-anchor="middle" font-family='"Liberation Serif","Noto Serif CJK TC","Noto Serif CJK SC",serif' textLength="67" lengthAdjust="spacingAndGlyphs">月收盤價</text>
<text x="1010.5" y="110.3" font-size="14" fill="#000080" text-anchor="middle" font-weight="900" font-family='"Liberation Serif","Noto Serif CJK TC","Noto Serif CJK SC",serif' textLength="92" lengthAdjust="spacingAndGlyphs">扣除外資法人</text>
<text x="1151.0" y="109.9" font-size="17" fill="#0000FF" text-anchor="middle" font-family='"Liberation Serif","Noto Serif CJK TC","Noto Serif CJK SC",serif' textLength="96" lengthAdjust="spacingAndGlyphs">公司獲利能力</text>
<text x="1288.0" y="109.9" font-size="17" fill="#0000FF" text-anchor="middle" font-family='"Liberation Serif","Noto Serif CJK TC","Noto Serif CJK SC",serif' >盈餘(元)</text>
<text x="727.0" y="132.7" font-size="17" fill="#000" text-anchor="middle" font-family='"Liberation Serif","Noto Serif CJK TC","Noto Serif CJK SC",serif' textLength="66" lengthAdjust="spacing">20年10月</text>
<text x="827.8" y="132.7" font-size="18.5" fill="#FF00FF" text-anchor="middle" font-family='"Liberation Serif","Noto Serif CJK TC","Noto Serif CJK SC",serif' >67.14</text>
<text x="919.0" y="132.7" font-size="19" fill="#FF6600" text-anchor="middle" font-weight="bold" font-family='"Liberation Serif","Noto Serif CJK TC","Noto Serif CJK SC",serif' >37.1</text>
<text x="1008.2" y="132.7" font-size="18.5" fill="#000080" text-anchor="middle" font-family='"Liberation Serif","Noto Serif CJK TC","Noto Serif CJK SC",serif' >60.01</text>
<text x="727.0" y="154.5" font-size="17" fill="#000" text-anchor="middle" font-family='"Liberation Serif","Noto Serif CJK TC","Noto Serif CJK SC",serif' textLength="66" lengthAdjust="spacing">20年09月</text>
<text x="827.8" y="154.5" font-size="18.5" fill="#FF00FF" text-anchor="middle" font-family='"Liberation Serif","Noto Serif CJK TC","Noto Serif CJK SC",serif' >67.14</text>
<text x="919.0" y="154.5" font-size="18.5" fill="#FFFF00" text-anchor="middle" font-family='"Liberation Serif","Noto Serif CJK TC","Noto Serif CJK SC",serif' >37.6</text>
<text x="1008.2" y="154.5" font-size="18.5" fill="#000080" text-anchor="middle" font-family='"Liberation Serif","Noto Serif CJK TC","Noto Serif CJK SC",serif' >59.77</text>
<text x="727.0" y="175.8" font-size="17" fill="#000" text-anchor="middle" font-family='"Liberation Serif","Noto Serif CJK TC","Noto Serif CJK SC",serif' textLength="66" lengthAdjust="spacing">20年08月</text>
<text x="827.8" y="175.8" font-size="18.5" fill="#FF00FF" text-anchor="middle" font-family='"Liberation Serif","Noto Serif CJK TC","Noto Serif CJK SC",serif' >68.21</text>
<text x="919.0" y="175.8" font-size="18.5" fill="#FFFF00" text-anchor="middle" font-family='"Liberation Serif","Noto Serif CJK TC","Noto Serif CJK SC",serif' >0.0</text>
<text x="1008.2" y="175.8" font-size="18.5" fill="#000080" text-anchor="middle" font-family='"Liberation Serif","Noto Serif CJK TC","Noto Serif CJK SC",serif' >60.60</text>
<text x="727.0" y="197.6" font-size="17" fill="#000" text-anchor="middle" font-family='"Liberation Serif","Noto Serif CJK TC","Noto Serif CJK SC",serif' textLength="66" lengthAdjust="spacing">20年07月</text>
<text x="827.8" y="197.6" font-size="18.5" fill="#FF00FF" text-anchor="middle" font-family='"Liberation Serif","Noto Serif CJK TC","Noto Serif CJK SC",serif' >68.19</text>
<text x="919.0" y="197.6" font-size="18.5" fill="#FFFF00" text-anchor="middle" font-family='"Liberation Serif","Noto Serif CJK TC","Noto Serif CJK SC",serif' >37.6</text>
<text x="1008.2" y="197.6" font-size="18.5" fill="#000080" text-anchor="middle" font-family='"Liberation Serif","Noto Serif CJK TC","Noto Serif CJK SC",serif' >60.44</text>
<text x="1151.0" y="132.9" font-size="17" fill="#0000FF" text-anchor="middle" font-family='"Liberation Serif","Noto Serif CJK TC","Noto Serif CJK SC",serif' textLength="132" lengthAdjust="spacingAndGlyphs">2016每股稅後盈餘</text>
<text x="1288.0" y="132.9" font-size="17" fill="#0000FF" text-anchor="middle" font-family='"Liberation Serif","Noto Serif CJK TC","Noto Serif CJK SC",serif' >3.15</text>
<text x="1151.0" y="154.9" font-size="17" fill="#000080" text-anchor="middle" font-family='"Liberation Serif","Noto Serif CJK TC","Noto Serif CJK SC",serif' textLength="166" lengthAdjust="spacingAndGlyphs">2015 &amp; 14每股稅後盈餘</text>
<text x="1288.0" y="154.7" font-size="15.5" fill="#000" text-anchor="middle" font-family='"Liberation Serif","Noto Serif CJK TC","Noto Serif CJK SC",serif' >2.21 &amp; 1.65</text>
<text x="1151.0" y="176.2" font-size="17" fill="#0000FF" text-anchor="middle" font-family='"Liberation Serif","Noto Serif CJK TC","Noto Serif CJK SC",serif' textLength="171" lengthAdjust="spacingAndGlyphs">2015自由現金/盈餘 比率</text>
<text x="1288.0" y="176.0" font-size="17" fill="#0000FF" text-anchor="middle" font-family='"Liberation Serif","Noto Serif CJK TC","Noto Serif CJK SC",serif' >3633%</text>
<text x="1151.0" y="197.8" font-size="16" fill="#0000FF" text-anchor="middle" font-family='"Liberation Serif","Noto Serif CJK TC","Noto Serif CJK SC",serif' textLength="158" lengthAdjust="spacingAndGlyphs">5年平均 &amp; 10年平均</text>
<text x="1288.0" y="197.3" font-size="13" fill="#000080" text-anchor="middle" font-weight="bold" font-family='"Liberation Serif","Noto Serif CJK TC","Noto Serif CJK SC",serif' letter-spacing="0.6">702% &amp; 338%</text>

<g>
<rect x="1064.5" y="19" width="274" height="47" fill="url(#bng)"/>
<rect x="1064.5" y="19" width="274" height="47" fill="url(#bng2)"/>
<path d="M1128,54 q6,0 10,4 q4,4 12,4 h100 q6,0 10,-4" stroke="#9fb0ff" stroke-width="1" fill="none" opacity="0.8"/>
<path d="M1300,60 l14,-6 h12 l8,6" stroke="#6f7fd0" stroke-width="1" fill="none" opacity="0.7"/>
<g clip-path="url(#phclip)"><g filter="url(#phblur)">
<rect x="1064" y="20" width="67" height="47" fill="#3a280e"/>
<rect x="1064" y="20" width="67" height="47" fill="url(#phg)"/>
<polygon points="1074.6,24.2 1101.0,24.2 1101.0,31.2 1074.6,31.2" fill="#7a5a1c"/>
<polygon points="1065.9,33.6 1081.7,32.7 1082.8,55.2 1066.4,56.4" fill="#cfc596"/>
<path d="M1067,36 l14,-1 M1067,39 l14,-1 M1067,42 l14,-1 M1067,45 l14,-1 M1067.5,48 l14,-1 M1068,51 l14,-1 M1068,54 l13,-1" stroke="#6a5a30" stroke-width="1" fill="none"/>
<polygon points="1065.9,24.2 1072.6,24.2 1072.6,32.4 1065.9,32.4" fill="#55503a"/>
<polygon points="1081.8,31.7 1099.4,31.7 1099.4,40.9 1081.8,40.9" fill="#1d1912"/>
<polygon points="1082.7,32.9 1098.5,32.9 1098.5,39.9 1082.7,39.9" fill="#3fa4c6"/>
<polygon points="1082.5,40.9 1098.4,40.9 1098.9,54.1 1082.3,54.1" fill="#2a2218"/>
<polygon points="1077.6,54.7 1085.2,44.1 1088.7,45.3 1085.8,53.5 1082.3,57.0" fill="#c98f3e"/>
<polygon points="1089.3,44.7 1092.8,44.1 1098.1,53.5 1101.0,58.2 1095.1,58.2 1090.5,51.1" fill="#d9a552"/>
<polygon points="1103.3,23.6 1127.3,36.2 1122.1,41.2 1101.3,29.8" fill="#20303a"/>
<polygon points="1104.5,24.8 1125.6,36.2 1121.5,39.7 1102.5,29.2" fill="#5fc0c8"/>
<polygon points="1110.4,39.4 1116.2,39.4 1118.0,43.5 1111.5,43.5" fill="#d8a828"/>
<polygon points="1106.9,39.1 1120.9,52.3 1112.1,62.9 1098.1,48.8" fill="#e4e2c8"/>
<polygon points="1106.9,43.5 1116.2,52.3 1111.5,58.2 1102.2,49.4" fill="#d6d88c"/>
<polygon points="1118.0,56.4 1128.5,56.4 1128.5,64.9 1118.0,64.9" fill="#e9dfa8"/>
<polygon points="1066.4,57.0 1077.6,54.7 1090.5,60.5 1090.5,64.9 1066.4,64.9" fill="#33291a"/>
<polygon points="1097.5,58.2 1110.4,60.5 1110.4,64.9 1097.5,64.9" fill="#b88a2a"/>
<polygon points="1118.6,26.5 1124.4,27.7 1123.8,35.3 1119.2,33.6" fill="#8a7a4a"/>
</g></g>
<rect x="1066" y="22.5" width="62.5" height="42.5" rx="4" fill="none" stroke="#c8c0a0" stroke-width="0.6" opacity="0.5"/>
<path d="M1258.8,60 l12,-37.5 l46.5,16 l-14,27.5 l-44.5,-1z" fill="#cfefc3"/>
<path d="M1263,50 l50,8 M1266,42 l48,9 M1269,34 l46,10 M1280,27 l-10,36 M1292,31 l-10,34 M1304,35 l-10,30" stroke="#8fb8a0" stroke-width="0.6" fill="none"/>
<path d="M1264,40 q6,-8 10,0 t10,2 t10,4 t10,2 t8,4" stroke="#5a6a9a" stroke-width="0.9" fill="none"/>
<path d="M1260,60 l6,-4 l4,2 l5,-8 l4,3 l4,-6 l3,6 l7,-16 l6,10 l8,-12 l4,6 l8,-8" stroke="#ee3311" stroke-width="2.2" fill="none" stroke-linejoin="round"/>
<path d="M1310,40 q8,-6 14,-7 l-2,-4 l14,2 l-9,11 l-1,-4 q-7,1 -14,7z" fill="#ff6a10"/>
<text x="1137 1168.5 1199.5 1230.5" y="53.5" font-size="25" fill="#000" opacity="0.6" font-weight="900" font-style="italic" font-family='"Liberation Serif","Noto Serif CJK TC","Noto Serif CJK SC",serif' transform="translate(1.6,1.6)">投資教練</text>
<text x="1137 1168.5 1199.5 1230.5" y="53.5" font-size="25" fill="#fff" font-weight="900" font-style="italic" font-family='"Liberation Serif","Noto Serif CJK TC","Noto Serif CJK SC",serif'>投資教練</text>
</g>

</svg>
</body></html>
